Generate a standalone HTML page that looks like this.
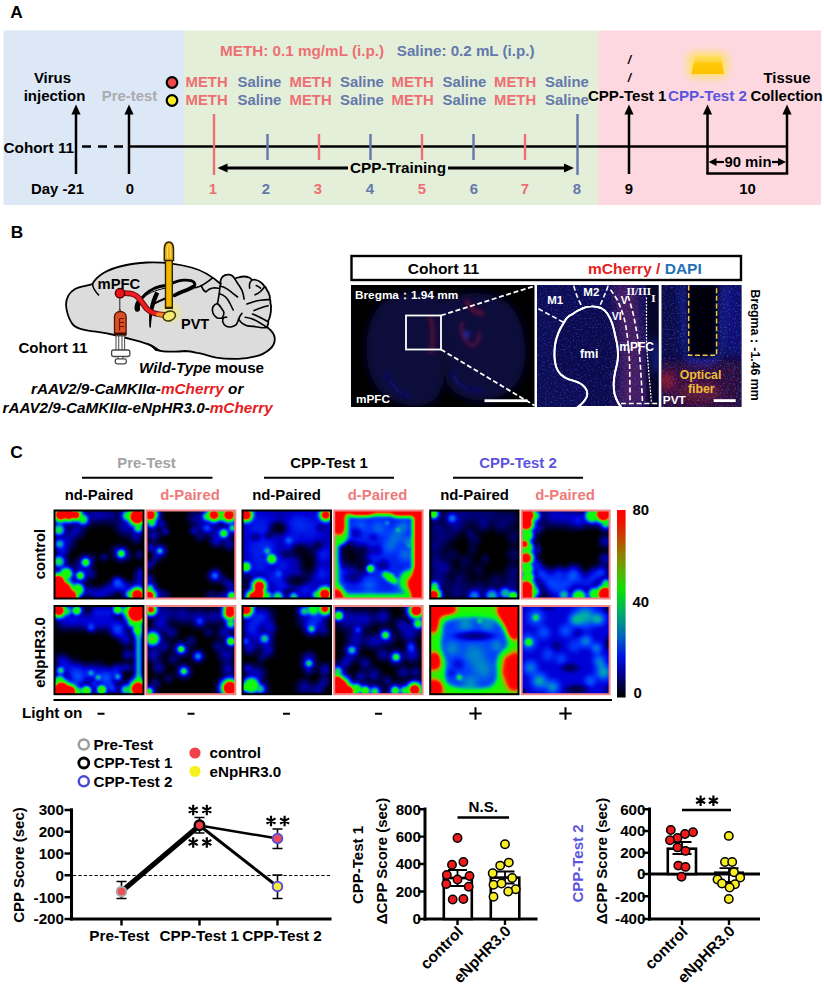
<!DOCTYPE html>
<html><head><meta charset="utf-8">
<style>
html,body{margin:0;padding:0;background:#fff;}
body{width:824px;height:990px;overflow:hidden;}
svg{display:block;}
text{font-family:"Liberation Sans",sans-serif;font-weight:bold;}
.t14{font-size:14.5px;}
.m{fill:#ee6f73;}
.s{fill:#6478ab;}
</style></head><body>
<svg width="824" height="990" viewBox="0 0 824 990">
<defs>
<marker id="ah" viewBox="0 0 10 10" refX="9" refY="5" markerWidth="5" markerHeight="5" orient="auto-start-reverse"><path d="M0,0L10,5L0,10z"/></marker>
</defs>
<rect width="824" height="990" fill="#fff"/>
<!-- ================= PANEL A ================= -->
<g id="panelA">
<text x="10.3" y="18.3" font-size="17.3">A</text>
<rect x="3.5" y="30.500" width="182" height="174.500" fill="#dde8f6"/>
<rect x="184" y="30.500" width="415" height="174.500" fill="#e3efd9"/>
<rect x="598.500" y="30.500" width="222.500" height="174.500" fill="#fdd8e1"/>
<g class="t14">
<text x="52.5" y="82.5" text-anchor="middle" font-size="15">Virus</text>
<text x="54.5" y="100.5" text-anchor="middle" font-size="15">injection</text>
<text x="129.500" y="101" text-anchor="middle" font-size="14.9" fill="#a9abb0">Pre-test</text>
<text x="3.5" y="152.5" font-size="15.3">Cohort 11</text>
<text x="31" y="194" font-size="14.9">Day -21</text>
<text x="130" y="194" text-anchor="middle" font-size="14.9">0</text>
<text x="220" y="56" class="m" font-size="15.25">METH: 0.1 mg/mL (i.p.)</text>
<text x="396.800" y="56" class="s" font-size="15.15">Saline: 0.2 mL (i.p.)</text>
</g>
<!-- circles -->
<circle cx="172" cy="82.5" r="5.3" fill="#f0474b" stroke="#000" stroke-width="2.2"/>
<circle cx="172" cy="100.5" r="5.3" fill="#f6ee22" stroke="#000" stroke-width="2.2"/>
<g font-size="14.9">
<text class="m" x="185.5" y="87">METH</text><text class="s" x="237.5" y="87">Saline</text>
<text class="m" x="289.5" y="87">METH</text><text class="s" x="340" y="87">Saline</text>
<text class="m" x="391.5" y="87">METH</text><text class="s" x="442.5" y="87">Saline</text>
<text class="m" x="494" y="87">METH</text><text class="s" x="545" y="87">Saline</text>
<text class="m" x="185.5" y="105">METH</text><text class="s" x="237.5" y="105">Saline</text>
<text class="m" x="289.5" y="105">METH</text><text class="s" x="340" y="105">Saline</text>
<text class="m" x="391.5" y="105">METH</text><text class="s" x="442.5" y="105">Saline</text>
<text class="m" x="494" y="105">METH</text><text class="s" x="545" y="105">Saline</text>
</g>
<!-- timeline -->
<line x1="76" y1="146.5" x2="129" y2="146.5" stroke="#000" stroke-width="2.4" stroke-dasharray="9,7" stroke-dashoffset="-6"/>
<line x1="129" y1="146.5" x2="787" y2="146.5" stroke="#000" stroke-width="2.4"/>
<!-- up arrows -->
<g stroke="#000" stroke-width="2.5" fill="none">
<line x1="76" y1="174" x2="76" y2="112"/>
<line x1="129" y1="174" x2="129" y2="112"/>
<line x1="629" y1="174" x2="629" y2="112"/>
<line x1="707.5" y1="174" x2="707.5" y2="112"/>
<line x1="787" y1="174" x2="787" y2="112"/>
<line x1="706.4" y1="173.5" x2="788.1" y2="173.5"/>
</g>
<g fill="#000">
<path d="M76,104.5l4.6,10h-9.2z"/><path d="M129,104.5l4.6,10h-9.2z"/>
<path d="M629,104.5l4.6,10h-9.2z"/><path d="M707.5,104.5l4.6,10h-9.2z"/><path d="M787,104.5l4.6,10h-9.2z"/>
</g>
<!-- day ticks -->
<g stroke-width="2.4">
<line x1="214" y1="114" x2="214" y2="175" stroke="#ee6f73"/>
<line x1="267.5" y1="134" x2="267.5" y2="160" stroke="#6478ab"/>
<line x1="319" y1="134" x2="319" y2="160" stroke="#ee6f73"/>
<line x1="370.5" y1="134" x2="370.5" y2="160" stroke="#6478ab"/>
<line x1="422" y1="134" x2="422" y2="160" stroke="#ee6f73"/>
<line x1="473.5" y1="134" x2="473.5" y2="160" stroke="#6478ab"/>
<line x1="525" y1="134" x2="525" y2="160" stroke="#ee6f73"/>
<line x1="577.5" y1="114" x2="577.5" y2="175" stroke="#6478ab"/>
</g>
<g font-size="14.9" text-anchor="middle">
<text class="m" x="213" y="194">1</text><text class="s" x="266" y="194">2</text>
<text class="m" x="318" y="194">3</text><text class="s" x="370" y="194">4</text>
<text class="m" x="422" y="194">5</text><text class="s" x="474" y="194">6</text>
<text class="m" x="525" y="194">7</text><text class="s" x="577" y="194">8</text>
<text x="629" y="194">9</text><text x="747.5" y="194">10</text>
</g>
<!-- CPP-Training arrow -->
<line x1="226" y1="168" x2="348" y2="168" stroke="#000" stroke-width="2.8"/>
<line x1="448" y1="168" x2="565" y2="168" stroke="#000" stroke-width="2.8"/>
<path d="M217.5,168l10,-4.6v9.2z" fill="#000"/><path d="M574,168l-10,-4.6v9.2z" fill="#000"/>
<text x="398" y="173.3" text-anchor="middle" font-size="15.3">CPP-Training</text>
<!-- right block -->
<text x="627.2" y="101" text-anchor="middle" font-size="15.1">CPP-Test 1</text>
<text x="707.5" y="101" text-anchor="middle" font-size="15.2" fill="#5b55dd">CPP-Test 2</text>
<text x="787" y="83" text-anchor="middle" font-size="14.9">Tissue</text>
<text x="786.5" y="101" text-anchor="middle" font-size="14.9">Collection</text>
<text x="629.5" y="64" text-anchor="middle" font-size="12" font-style="italic">/</text>
<text x="629.5" y="81.5" text-anchor="middle" font-size="12" font-style="italic">/</text>
<!-- 90 min -->
<line x1="716" y1="162" x2="724" y2="162" stroke="#000" stroke-width="2.2"/>
<line x1="772" y1="162" x2="779" y2="162" stroke="#000" stroke-width="2.2"/>
<path d="M708.5,162l8,-4v8z" fill="#000"/><path d="M786,162l-8,-4v8z" fill="#000"/>
<text x="748" y="167" text-anchor="middle" font-size="14.9">90 min</text>
<!-- light -->
<defs><filter id="glow" x="-50%" y="-50%" width="200%" height="200%"><feGaussianBlur stdDeviation="4"/></filter>
<linearGradient id="lg" x1="0" y1="0" x2="0" y2="1"><stop offset="0" stop-color="#ffdf62"/><stop offset=".32" stop-color="#ffd43c"/><stop offset=".42" stop-color="#ffc808"/><stop offset="1" stop-color="#ffc200"/></linearGradient></defs>
<rect x="688" y="52.500" width="39.500" height="25" rx="6" fill="#ffe266" filter="url(#glow)"/>
<path d="M695.200,55.800H720.700L724,74H691.300Z" fill="url(#lg)"/>

</g>
<!-- ================= PANEL B ================= -->
<g id="panelB">
<text x="10.8" y="238" font-size="17.3">B</text>
<!-- brain drawing -->
<g id="brain">
<path d="M66,305 C66,298 70,292 75,289 C80,286 88,286 92.5,284 C94,281 97,277 103.500,273 C113,267.500 130,263.500 147,262.500 C160,262 176,263.500 191.500,267.500 C203,270.500 214,278 220.700,284 C220,281 221,277 225,275.100 C228,273.900 231.500,274.800 232.700,276.200 C233.800,277 234.500,278 234.900,278.900 C236,277.800 237.500,277.300 238.700,277.300 C242,276.300 247,276.600 249.600,277.800 C250.800,278.400 251.500,279.200 251.800,280 C253,279.600 255,279.600 256.200,280 C258,280.500 259.500,281.300 260.500,282.200 C262,283 263.200,284.300 263.800,285.500 C265.500,286.500 266.500,288.500 267.100,290.400 C268.200,291.800 269,293.300 269.300,294.800 C269.800,296 270,297.500 269.800,299.100 C270.600,300.500 270.600,302 270.400,303.500 C271.200,305 271.200,307 270.900,309 C271,311 270.800,312.800 270.400,314.400 C270,317 269.200,319.200 268.200,321 C268.600,322.500 268.200,324 267.600,325.300 L267.300,327.300 C272,331 275,335 274.800,339.400 C274.500,344 272.500,347 270,349 C265,353.500 260,355.500 255.300,356.400 C248,358.500 242,359 236,358.800 C229,358.800 222,358.600 216.500,357.600 C209,356 203,353.600 197,352.800 C192,351.500 189,351 185,351 C180,351.500 176,351.800 172.800,351.600 C167,351.800 162,351.500 158.300,350.300 C154,347 152,345.500 148.500,344.300 C142,342 137,340.500 131.600,339.400 C125,337.500 120,336.200 114.600,335 C108,333.500 102,332.500 96,331.700 C90,331 85,330.300 80.400,328.800 C76,327.300 73,325.500 71.700,323 C68.500,318 66.500,311 66,305Z" fill="#dcdcdc" stroke="#000" stroke-width="1.800" stroke-linejoin="round"/>
<path d="M92.300,283.500 C93,288 96,292.500 99,295.300" fill="none" stroke="#000" stroke-width="1.600"/>
<path d="M146.500,343.600 C151,344 156,348 160.500,350.800 L155.500,350.500 C153,347.500 150,345.300 146.500,343.600Z" fill="#000" stroke="#000" stroke-width="1"/>
<g fill="none" stroke="#000" stroke-width="1.600" stroke-linecap="round" stroke-linejoin="round">
<path d="M220.700,284 C219.800,286 219.800,288 219.600,290.400 C219.300,293 219,295.500 218.500,298 C218.200,300 217.900,301.800 217.400,303.500 C215.500,303.800 214,305 212.800,307 C212,309.500 212.200,311.500 213,313.300 C214,315.500 215.200,316.800 216.800,317.700 C218.500,318.300 220.500,318.400 222.300,318.200"/>
<path d="M226.700,317.200 C225,317 223.800,317.300 223.400,318.200 C222.600,319.500 222.500,320.800 222.900,322.100 C223.500,324 224.400,325.200 225.600,325.900 C227.300,326.900 229.200,327.200 231,327 C233,326.500 235,325.600 236.500,324.300 C237.500,322.500 238.200,320.600 238.700,318.800 C239.500,320.600 240.600,322.100 242,323.200 C243.700,324.600 245.500,325.500 247.400,325.900 C249.500,326.300 252,326.300 254,326.400 C256.200,326.800 258.400,327.300 260.500,327.500 C262.500,327.900 264.300,328.100 267.300,327.300"/>
<path d="M212.500,277.800 C210.500,279.600 208,281.400 205.900,282.800 C203.800,284.300 201.600,285.600 199.400,286.600 L195.500,287.700"/>
<path d="M201.600,286.600 C202.500,289 204,291 205.900,292 C207,291 208,290 209.200,289.300 C211,288.300 212.800,287.800 214.700,287.700 C216,287.700 217.300,287.900 218.500,288.200"/>
<path d="M220.100,286 C223,286.600 225.600,287.800 227.800,289.300 C229.800,290.600 231.600,292.100 233.200,293.700 L237.600,297"/>
<path d="M219.600,293.700 C222,294.500 224,295.600 225.600,297 C227.500,299 228.900,301.200 230,303.500 L233.200,310"/>
<path d="M217.400,303.500 C219,304.700 220.300,306.200 221.200,307.900 C222.300,309.300 223.300,310.700 223.900,312.200 C224,314.300 223.400,316.200 222.300,317.700"/>
<path d="M234.900,278.900 C236,281 237.300,283 238.700,285 C240,286.800 241.100,288.500 242,290.400 C243.100,293.200 243.800,296.100 244.100,299.100"/>
<path d="M251.800,280 C250.800,281.200 250,282.400 249.600,283.800 C249.400,285.300 249.400,286.700 249.600,288.200"/>
<path d="M256.200,285.500 C257.800,286.200 259.200,287.100 260.500,288.200"/>
<path d="M264.900,286.600 C263.300,288.300 262,290 260.500,291.500 C258.900,292.900 257.100,294 255.100,294.800"/>
<path d="M269.800,299.700 C266.700,299.600 263.600,299.800 260.500,300.200 C257.900,300.600 255.400,301.200 252.900,301.900 L246.900,304"/>
<path d="M268.200,305.700 C265.600,306.200 263,306.900 260.500,307.900 C258.200,308.700 256,309.600 254,310.600"/>
<path d="M267.600,321.500 C266,320.500 264.300,319.600 262.700,318.800 C260.500,317.600 258.400,316.500 256.200,315.500 L252.500,314"/>
<path d="M267.100,327.500 C265,326 262.800,324.500 260.500,323.200 C257.700,321.500 254.800,320 251.800,318.800 C249.700,318 247.500,317.500 245.200,317.200"/>
<path d="M238.700,318.800 C239.500,316.800 240.600,315 242,313.300"/>
</g>
<g fill="none" stroke="#000" stroke-linecap="round">
<path d="M137.300,309 C136.800,306.500 137.800,303.500 140,300.500" stroke-width="5.400"/>
<path d="M139.500,301.500 C143,295 148.500,291 154.100,288.400 C158,286.800 162,285.900 165.800,285.500 C168.500,284.500 171,283.500 173.500,282.600 C176.500,281.500 180,280.500 183.300,280.200 C186,279.900 188.800,280.100 191,280.700 C193.500,281.500 194.800,283 194.900,284.600 C194.800,286 194,287.200 193,288" stroke-width="2.800"/>
<path d="M142.500,299 C147,293.500 154,290.500 166,288" stroke-width="1"/>
<path d="M174.500,295.300 C178,293.300 181.500,292 185.200,290.600 C188,289.500 191,288.500 193.500,286.500" stroke-width="3.800"/>
<path d="M154.500,303.500 C158,301.500 162,299.700 165.800,298.200" stroke-width="2"/>
</g>
<path d="M155.300,291.500 C152.500,297 150.800,302.500 149.800,308 C149,313.500 148.900,320 149.400,327 C149.500,328 150.800,328 150.900,327 C151.200,320.500 152,314.500 153.600,309 C155,303.500 157,298.500 159.200,293.500Z" fill="#000"/>
<defs><radialGradient id="pvg"><stop offset="0" stop-color="#f7ec6a" stop-opacity=".95"/><stop offset=".55" stop-color="#f4ea80" stop-opacity=".6"/><stop offset="1" stop-color="#f4ea80" stop-opacity="0"/></radialGradient></defs>
<ellipse cx="171" cy="312.500" rx="13" ry="13.500" fill="url(#pvg)" opacity=".8"/>
<path d="M124.500,293.200 C129,293.200 133,293.500 136.500,296 C141,299.500 143,304.500 147,309 C151,313 157,314.500 164.500,315" fill="none" stroke="#6b0a0a" stroke-width="5.800" stroke-linecap="round"/>
<path d="M124.500,293.200 C129,293.200 133,293.500 136.500,296 C141,299.500 143,304.500 147,309 C151,313 157,314.500 164.500,315" fill="none" stroke="#f01d22" stroke-width="3.800" stroke-linecap="round"/>
<path d="M158,314.300 L164.500,315" fill="none" stroke="#f28a1e" stroke-width="3.800" stroke-linecap="round"/>
<ellipse cx="169.300" cy="316" rx="6.300" ry="4.800" transform="rotate(-20 169.300 316)" fill="#f4e873" stroke="#3f3d00" stroke-width="1.500"/>
<path d="M165.500,260.400 h6.800 v48 h-6.800z" fill="#f3b700" stroke="#2e2200" stroke-width="1.400"/><rect x="165.500" y="306.700" width="6.800" height="1.900" fill="#2e2200"/>
<path d="M164.300,260.400 v-11 c0,-4.500 1.900,-7.300 4.600,-7.300 c2.700,0 4.600,2.800 4.600,7.300 v11z" fill="#eeb211" stroke="#2e2200" stroke-width="1.500"/>
<path d="M167.500,258 v-9 c0,-3 .6,-4.400 1.400,-4.400 c.8,0 1.400,1.400 1.400,4.400 v9" fill="none" stroke="#fbe08a" stroke-width=".9"/>
<line x1="119.800" y1="297" x2="119.800" y2="311" stroke="#222" stroke-width="1"/>
<circle cx="120" cy="293.200" r="4.700" fill="#ea151b" stroke="#4a0000" stroke-width="1.400"/>
<path d="M118.300,312.500 l1.500,-3.500 l1.500,3.500z" fill="#fff" stroke="#222" stroke-width=".8"/>
<path d="M114.500,334.500 v-18 c0,-3 2.500,-5 5.800,-5 c3.300,0 5.800,2 5.800,5 v18z" fill="#dc4f26" stroke="#4a1500" stroke-width="1.300"/>
<path d="M119.500,318.500h4.500 M119.500,322.500h4.500 M119.500,326.500h4.500 M119.500,318.500v12" stroke="#6a1600" stroke-width="1.200" fill="none"/>
<rect x="114.500" y="332.500" width="11.600" height="3.400" fill="#3a0d00"/>
<rect x="116" y="335.900" width="8.600" height="14.500" fill="#fff" stroke="#555" stroke-width="1.100"/>
<path d="M118.700,335.900v14.500 M122,335.900v14.500" stroke="#555" stroke-width="1.100"/>
<rect x="111.600" y="350" width="18.200" height="6.500" rx="2" fill="#fff" stroke="#444" stroke-width="1.300"/>
<rect x="118.200" y="356.500" width="4.600" height="3" fill="#fff" stroke="#444" stroke-width="1"/>
<rect x="115.300" y="358.800" width="11" height="5" rx="1.800" fill="#fff" stroke="#444" stroke-width="1.300"/>
</g>
<!-- labels -->
<text x="97.500" y="289.300" font-size="14.800">mPFC</text>
<text x="181" y="328.600" font-size="14.500">PVT</text>
<text x="18.500" y="352.500" font-size="15">Cohort 11</text>
<text x="139" y="373.300" font-size="15.200"><tspan font-style="italic">Wild-Type</tspan> mouse</text>
<text x="31" y="393.800" font-size="15.300" font-style="italic">rAAV2/9-CaMKII&#945;-<tspan fill="#e51c1f">mCherry</tspan> or</text>
<text x="2.500" y="412.500" font-size="15.300" font-style="italic">rAAV2/9-CaMKII&#945;-eNpHR3.0-<tspan fill="#e51c1f">mCherry</tspan></text>

<!-- header box -->
<rect x="351.5" y="256" width="389.500" height="24" fill="#fff" stroke="#000" stroke-width="2.400"/>
<text x="443.500" y="273.500" text-anchor="middle" font-size="15.500">Cohort 11</text>
<text x="588" y="273.500" font-size="15.500"><tspan fill="#e3211c">mCherry /</tspan><tspan fill="#1f72b8"> DAPI</tspan></text>
<defs>
<filter id="bl4" x="-30%" y="-30%" width="160%" height="160%"><feGaussianBlur stdDeviation="4"/></filter>
<filter id="bl2" x="-30%" y="-30%" width="160%" height="160%"><feGaussianBlur stdDeviation="2"/></filter>
<filter id="bl6" x="-30%" y="-30%" width="160%" height="160%"><feGaussianBlur stdDeviation="6"/></filter>
<filter id="nzb" x="0" y="0" width="100%" height="100%"><feTurbulence type="fractalNoise" baseFrequency=".55" numOctaves="2" seed="7"/><feColorMatrix type="matrix" values="0 0 0 0 .08  0 0 0 0 .12  0 0 0 0 .95  0 0 3.2 0 -1.75"/></filter>
<filter id="nzr" x="0" y="0" width="100%" height="100%"><feTurbulence type="fractalNoise" baseFrequency=".6" numOctaves="2" seed="11"/><feColorMatrix type="matrix" values="0 0 0 0 .85  0 0 0 0 .08  0 0 0 0 .2  0 3.2 0 0 -1.85"/></filter>
<clipPath id="ci1"><rect x="351" y="285" width="183.500" height="122"/></clipPath>
<clipPath id="ci2"><rect x="537" y="285" width="121.500" height="122"/></clipPath>
<clipPath id="ci3"><rect x="661.500" y="285" width="80" height="122"/></clipPath>
</defs>
<!-- image 1 -->
<rect x="351" y="285" width="183.500" height="122" fill="#000"/>
<g clip-path="url(#ci1)">
<g filter="url(#bl4)">
<path d="M443,302 C430,292 400,292 384,304 C368,318 364,350 372,374 C380,396 400,406 420,404 C434,402 441,392 441,376Z" fill="#08083a" stroke="#0e0e54" stroke-width="3"/>
<path d="M447,302 C460,292 490,292 506,304 C522,318 528,350 520,374 C512,394 490,402 472,398 C456,394 449,388 449,376Z" fill="#08083a" stroke="#0e0e54" stroke-width="3"/>
</g>
<g filter="url(#bl2)">
<path d="M430,316 C433,325 434,340 431,354" stroke="#4a0e34" stroke-width="5" fill="none"/>
<path d="M466,300 C470,308 474,312 484,314" stroke="#5a1038" stroke-width="5" fill="none"/>
<path d="M462,322 C460,332 464,342 472,346 C478,344 480,338 478,332" stroke="#4a1040" stroke-width="4" fill="none"/>
<circle cx="467" cy="334" r="3" fill="#1a2ab0"/>
<path d="M386,372 C390,386 400,394 410,396" stroke="#14148a" stroke-width="3" fill="none" opacity=".7"/>
<path d="M452,372 C456,386 470,392 484,390" stroke="#14148a" stroke-width="3" fill="none" opacity=".7"/>
</g>
</g>
<rect x="406" y="315.500" width="35" height="34" fill="none" stroke="#fff" stroke-width="1.800"/>
<path d="M441,315.500 L534.500,286 M441,349.500 L534.500,405.500" stroke="#fff" stroke-width="1.800" stroke-dasharray="5,2.600" fill="none"/>
<rect x="484.500" y="399.300" width="43" height="2.800" fill="#fff"/>
<text x="355" y="299" font-size="11.800" fill="#fff">Bregma：1.94 mm</text>
<text x="356" y="403" font-size="11.800" fill="#fff">mPFC</text>
<!-- image 2 -->
<rect x="537" y="285" width="121.500" height="122" fill="#0d0d56"/>
<g clip-path="url(#ci2)">
<rect x="646" y="285" width="14" height="122" fill="#06062a"/>
<g filter="url(#bl4)">
<path d="M612,285 L636,285 C640,320 644,360 646,407 L618,407 C622,370 620,320 612,285Z" fill="#4c1c62" opacity=".85"/>
<path d="M652,340 C656,350 657,362 656,372" stroke="#1430c0" stroke-width="5" fill="none"/>
<path d="M596,385 L602,407 L590,407Z" fill="#1428b0"/>
</g>
<path d="M564,322.500 C566,318 568.500,316 572,314.400 C575,312 578,310 581.700,308.800 C585,307.200 588,306.400 591.300,306.400 C595,306.300 598,306.800 600.900,308 C604,309.500 606,311.500 607.300,313.600 C609.500,317 611,320 612.100,323.300 C613.500,327.500 614.500,331.500 615.300,336 C616.500,340.500 617.300,344.500 617.700,348.900 C618,352.500 618,356.500 617.700,360 C617.200,364 616.200,367.500 615.300,371.300 C614.500,375 613.900,378.500 613.700,382.500 C613.600,386.500 613.800,390 614.500,393.700 C615.500,397.500 616.800,400.500 618.500,403.400 L621,407 L578,407 C581,404.500 583.500,402.500 584.900,400 C586.500,398 587.300,396 587.300,393.700 C587.200,391.200 586.300,389 584.900,387.300 C583.300,385.200 581,383.700 578.500,382.500 C575.500,381.300 572,380.300 568.800,379.300 C565.800,378.300 563,376.500 560.800,374.500 C558.500,372.300 557,369.500 556,366.500 C555,363 554.500,359 554.400,355.300 C554.400,351.500 554.600,347.800 555.200,344 C555.800,340.200 557,336.500 558.400,332.900 C559.800,329.200 561.800,325.800 564,322.500Z" fill="#0a0a4c" stroke="#fff" stroke-width="1.900"/>
<rect x="537" y="285" width="109" height="122" filter="url(#nzb)" opacity=".5"/>
<rect x="610" y="285" width="36" height="122" filter="url(#nzr)" opacity=".4"/>
<path d="M564,322.500 C566,318 568.500,316 572,314.400 C575,312 578,310 581.700,308.800 C585,307.200 588,306.400 591.300,306.400 C595,306.300 598,306.800 600.900,308 C604,309.500 606,311.500 607.300,313.600 C609.500,317 611,320 612.100,323.300 C613.500,327.500 614.500,331.500 615.300,336 C616.500,340.500 617.300,344.500 617.700,348.900 C618,352.500 618,356.500 617.700,360 C617.200,364 616.200,367.500 615.300,371.300 C614.500,375 613.900,378.500 613.700,382.500 C613.600,386.500 613.800,390 614.500,393.700 C615.500,397.500 616.800,400.500 618.500,403.400 L621,407 L578,407 C581,404.500 583.500,402.500 584.900,400 C586.500,398 587.300,396 587.300,393.700 C587.200,391.200 586.300,389 584.900,387.300 C583.300,385.200 581,383.700 578.500,382.500 C575.500,381.300 572,380.300 568.800,379.300 C565.800,378.300 563,376.500 560.800,374.500 C558.500,372.300 557,369.500 556,366.500 C555,363 554.500,359 554.400,355.300 C554.400,351.500 554.600,347.800 555.200,344 C555.800,340.200 557,336.500 558.400,332.900 C559.800,329.200 561.800,325.800 564,322.500Z" fill="none" stroke="#fff" stroke-width="1.900"/>

<g fill="none" stroke="#fff" stroke-width="1.600" stroke-dasharray="5,2.800">
<path d="M538.400,308.800 L564,322.500"/>
<path d="M573.700,285.600 C575,290 576,294 577.700,297.600 L582.500,308"/>
<path d="M608.100,285.600 C607,289.500 605.500,293 604.100,296 L599.300,307.200"/>
<path d="M610.500,289.600 C613.500,294 616.500,298 618.500,302.400 C621,308.500 623.500,315 624.900,321.700 C626.500,329 627.500,336.500 628.100,344 C629,352 629.500,360 629.700,368 C629.900,380 630,392 630,403.400"/>
<path d="M628.100,296 C630.500,304 633,312 634.500,320 C636,328 637.500,336 638.500,344 C639.500,354.500 640.500,365 641,376 C641.700,385 642.200,394 642.500,403.400"/>
<path d="M621,403.600 L657.800,403.600" stroke-width="1.500"/>
</g>
<path d="M646.500,297.600 L646.500,344 C647.300,354.500 648.300,365 649,376 C650,385 650.800,394 651.400,403.400" fill="none" stroke="#fff" stroke-width="1.200" stroke-dasharray="2,1.300"/>
</g>
<g fill="#fff">
<text x="547.200" y="303.700" font-size="11.500">M1</text>
<text x="583.300" y="296.300" font-size="11.500">M2</text>
<text x="580" y="357.500" font-size="12.200">fmi</text>
<text x="619.300" y="350.500" font-size="12">mPFC</text>
<text x="620.800" y="304.200" font-size="10.500">V</text>
<text x="611.800" y="320" font-size="10.500">VI</text>
<text x="626.500" y="295" font-size="11" style="font-family:'Liberation Serif',serif">II/III</text>
<text x="651.200" y="301.600" font-size="11" style="font-family:'Liberation Serif',serif">I</text>
</g>
<!-- image 3 -->
<rect x="661.500" y="285" width="80" height="122" fill="#0b0b48"/>
<g clip-path="url(#ci3)">
<g filter="url(#bl4)">
<rect x="661.500" y="362" width="80" height="50" fill="#2c0e3a"/>
<ellipse cx="666" cy="381" rx="8" ry="8" fill="#8a1525"/>
<ellipse cx="700" cy="392" rx="22" ry="10" fill="#5a1235"/>
<path d="M682,285 L686,345 L692,360 L712,360 L722,345 L724,285" fill="none" stroke="#142cb8" stroke-width="4"/>
<rect x="728" y="285" width="14" height="70" fill="#101078"/>
</g>
<rect x="661.500" y="285" width="80" height="122" filter="url(#nzb)" opacity=".6"/>
<rect x="661.500" y="360" width="80" height="47" filter="url(#nzr)" opacity=".42"/>
<path d="M688,285 L688.500,354 C694,358 710,358 716.500,354 L717,285Z" fill="#03030c" filter="url(#bl2)"/>
</g>
<path d="M688.700,285.500 V355.200 H716.600 V285.500" fill="none" stroke="#f2c53d" stroke-width="1.500" stroke-dasharray="5,2.600"/>
<text x="700.500" y="378.800" text-anchor="middle" font-size="12.300" fill="#f0bc35">Optical</text>
<text x="701.300" y="392.600" text-anchor="middle" font-size="12.300" fill="#f0bc35">fiber</text>
<text x="662.800" y="403.700" font-size="11.800" fill="#fff">PVT</text>
<rect x="713.700" y="399.200" width="22" height="2.800" fill="#fff"/>
<text transform="translate(751,289.500) rotate(90)" font-size="12.300">Bregma：-1.46 mm</text>

</g>
<!-- ================= PANEL C ================= -->
<g id="panelC">
<text x="10.3" y="457.800" font-size="17.300">C</text>
<!-- headers -->
<g font-size="14.900" text-anchor="middle">
<text x="146.500" y="468" fill="#a3a3a3">Pre-Test</text>
<text x="329" y="468">CPP-Test 1</text>
<text x="518" y="468" fill="#5b55dd">CPP-Test 2</text>
<text x="99" y="499.500">nd-Paired</text><text x="190" y="499.500" fill="#ee7a7a">d-Paired</text>
<text x="286.500" y="499.500">nd-Paired</text><text x="377.500" y="499.500" fill="#ee7a7a">d-Paired</text>
<text x="474.500" y="499.500">nd-Paired</text><text x="565" y="499.500" fill="#ee7a7a">d-Paired</text>
</g>
<g stroke="#000" stroke-width="2">
<line x1="82" y1="477.800" x2="212.500" y2="477.800"/>
<line x1="264" y1="477.800" x2="394" y2="477.800"/>
<line x1="453" y1="477.800" x2="583" y2="477.800"/>
<line x1="53.500" y1="700" x2="612" y2="700"/>
</g>
<text transform="translate(45,554) rotate(-90)" text-anchor="middle" font-size="14.900">control</text>
<text transform="translate(45,652.500) rotate(-90)" text-anchor="middle" font-size="14.900">eNpHR3.0</text>
<text x="22" y="718" font-size="15.300">Light on</text>
<g stroke="#000" stroke-width="2" fill="none">
<path d="M97.500,713.700h7M187.500,713.700h7M283,713.700h7M375,713.700h7"/>
<path d="M469.300,713.500h12.400M475.500,707.300v12.400M559.300,713.500h12.400M565.500,707.300v12.400" stroke-width="2"/>
</g>
<!-- colorbar -->
<defs><linearGradient id="cb" x1="0" y1="1" x2="0" y2="0">
<stop offset="0" stop-color="#000"/><stop offset=".05" stop-color="#000030"/><stop offset=".14" stop-color="#0000a0"/><stop offset=".22" stop-color="#0012e4"/><stop offset=".32" stop-color="#0060c0"/><stop offset=".42" stop-color="#009a80"/><stop offset=".52" stop-color="#00cc30"/><stop offset=".58" stop-color="#10e000"/><stop offset=".66" stop-color="#50b800"/><stop offset=".76" stop-color="#908000"/><stop offset=".86" stop-color="#c84000"/><stop offset=".94" stop-color="#f01000"/><stop offset="1" stop-color="#ff0000"/></linearGradient></defs>
<rect x="617" y="510" width="8.600" height="187.500" fill="url(#cb)"/>
<g font-size="14.900"><text x="632.500" y="514.500">80</text><text x="632.500" y="606.500">40</text><text x="633.500" y="698">0</text></g>

<!--HEAT-START-->
<defs>
<radialGradient id="rk"><stop offset="0" stop-color="#000" stop-opacity="1"/><stop offset=".4" stop-color="#000" stop-opacity=".8"/><stop offset="1" stop-color="#000" stop-opacity="0"/></radialGradient>
<filter id="pb" filterUnits="userSpaceOnUse" x="-30" y="-30" width="160" height="160"><feGaussianBlur stdDeviation="2.2"/></filter>
<filter id="jet" x="0" y="0" width="100" height="100" filterUnits="userSpaceOnUse" color-interpolation-filters="sRGB">
<feGaussianBlur stdDeviation="1.8"/>
<feComponentTransfer>
<feFuncR type="table" tableValues="0 0 0 0 0 0 .15 .8 1 1 1"/>
<feFuncG type="table" tableValues="0 0 0 .25 .65 1 .95 .6 .1 0 0"/>
<feFuncB type="table" tableValues="0 .38 .85 1 .7 .1 0 0 0 0 0"/>
</feComponentTransfer></filter>
<radialGradient id="p100"><stop offset="0" stop-color="#ffffff"/><stop offset="0.5" stop-color="#ffffff"/><stop offset="0.62" stop-color="#d6d6d6"/><stop offset="0.74" stop-color="#999999"/><stop offset="0.86" stop-color="#525252"/><stop offset="0.95" stop-color="#1a1a1a"/><stop offset="1" stop-color="#000000"/></radialGradient>
<radialGradient id="g58"><stop offset="0" stop-color="#949494"/><stop offset="0.35" stop-color="#949494"/><stop offset="0.55" stop-color="#767676"/><stop offset="0.75" stop-color="#434343"/><stop offset="0.9" stop-color="#161616"/><stop offset="1" stop-color="#000000"/></radialGradient>
<radialGradient id="h24"><stop offset="0" stop-color="#3d3d3d"/><stop offset="0.15" stop-color="#3a3a3a"/><stop offset="0.3" stop-color="#323232"/><stop offset="0.45" stop-color="#262626"/><stop offset="0.6" stop-color="#181818"/><stop offset="0.75" stop-color="#0c0c0c"/><stop offset="0.9" stop-color="#040404"/><stop offset="1" stop-color="#000000"/></radialGradient>
<radialGradient id="g48"><stop offset="0" stop-color="#7a7a7a"/><stop offset="0.35" stop-color="#7a7a7a"/><stop offset="0.55" stop-color="#626262"/><stop offset="0.75" stop-color="#373737"/><stop offset="0.9" stop-color="#121212"/><stop offset="1" stop-color="#000000"/></radialGradient>
<radialGradient id="h26"><stop offset="0" stop-color="#424242"/><stop offset="0.15" stop-color="#3f3f3f"/><stop offset="0.3" stop-color="#363636"/><stop offset="0.45" stop-color="#292929"/><stop offset="0.6" stop-color="#1b1b1b"/><stop offset="0.75" stop-color="#0d0d0d"/><stop offset="0.9" stop-color="#040404"/><stop offset="1" stop-color="#000000"/></radialGradient>
<radialGradient id="g42"><stop offset="0" stop-color="#6b6b6b"/><stop offset="0.35" stop-color="#6b6b6b"/><stop offset="0.55" stop-color="#565656"/><stop offset="0.75" stop-color="#303030"/><stop offset="0.9" stop-color="#101010"/><stop offset="1" stop-color="#000000"/></radialGradient>
<radialGradient id="g50"><stop offset="0" stop-color="#808080"/><stop offset="0.35" stop-color="#808080"/><stop offset="0.55" stop-color="#666666"/><stop offset="0.75" stop-color="#393939"/><stop offset="0.9" stop-color="#131313"/><stop offset="1" stop-color="#000000"/></radialGradient>
<radialGradient id="h78"><stop offset="0" stop-color="#c7c7c7"/><stop offset="0.15" stop-color="#bdbdbd"/><stop offset="0.3" stop-color="#a3a3a3"/><stop offset="0.45" stop-color="#7b7b7b"/><stop offset="0.6" stop-color="#505050"/><stop offset="0.75" stop-color="#282828"/><stop offset="0.9" stop-color="#0c0c0c"/><stop offset="1" stop-color="#000000"/></radialGradient>
<radialGradient id="g60"><stop offset="0" stop-color="#999999"/><stop offset="0.35" stop-color="#999999"/><stop offset="0.55" stop-color="#7a7a7a"/><stop offset="0.75" stop-color="#454545"/><stop offset="0.9" stop-color="#171717"/><stop offset="1" stop-color="#000000"/></radialGradient>
<radialGradient id="g56"><stop offset="0" stop-color="#8f8f8f"/><stop offset="0.35" stop-color="#8f8f8f"/><stop offset="0.55" stop-color="#727272"/><stop offset="0.75" stop-color="#404040"/><stop offset="0.9" stop-color="#151515"/><stop offset="1" stop-color="#000000"/></radialGradient>
<radialGradient id="h16"><stop offset="0" stop-color="#292929"/><stop offset="0.15" stop-color="#272727"/><stop offset="0.3" stop-color="#212121"/><stop offset="0.45" stop-color="#191919"/><stop offset="0.6" stop-color="#101010"/><stop offset="0.75" stop-color="#080808"/><stop offset="0.9" stop-color="#020202"/><stop offset="1" stop-color="#000000"/></radialGradient>
<radialGradient id="h14"><stop offset="0" stop-color="#242424"/><stop offset="0.15" stop-color="#222222"/><stop offset="0.3" stop-color="#1d1d1d"/><stop offset="0.45" stop-color="#161616"/><stop offset="0.6" stop-color="#0e0e0e"/><stop offset="0.75" stop-color="#070707"/><stop offset="0.9" stop-color="#020202"/><stop offset="1" stop-color="#000000"/></radialGradient>
<radialGradient id="h18"><stop offset="0" stop-color="#2e2e2e"/><stop offset="0.15" stop-color="#2b2b2b"/><stop offset="0.3" stop-color="#252525"/><stop offset="0.45" stop-color="#1c1c1c"/><stop offset="0.6" stop-color="#121212"/><stop offset="0.75" stop-color="#090909"/><stop offset="0.9" stop-color="#030303"/><stop offset="1" stop-color="#000000"/></radialGradient>
<radialGradient id="h19"><stop offset="0" stop-color="#313131"/><stop offset="0.15" stop-color="#2f2f2f"/><stop offset="0.3" stop-color="#282828"/><stop offset="0.45" stop-color="#1e1e1e"/><stop offset="0.6" stop-color="#141414"/><stop offset="0.75" stop-color="#0a0a0a"/><stop offset="0.9" stop-color="#030303"/><stop offset="1" stop-color="#000000"/></radialGradient>
<radialGradient id="h20"><stop offset="0" stop-color="#343434"/><stop offset="0.15" stop-color="#323232"/><stop offset="0.3" stop-color="#2b2b2b"/><stop offset="0.45" stop-color="#202020"/><stop offset="0.6" stop-color="#151515"/><stop offset="0.75" stop-color="#0a0a0a"/><stop offset="0.9" stop-color="#030303"/><stop offset="1" stop-color="#000000"/></radialGradient>
<radialGradient id="h13"><stop offset="0" stop-color="#212121"/><stop offset="0.15" stop-color="#1f1f1f"/><stop offset="0.3" stop-color="#1b1b1b"/><stop offset="0.45" stop-color="#141414"/><stop offset="0.6" stop-color="#0d0d0d"/><stop offset="0.75" stop-color="#070707"/><stop offset="0.9" stop-color="#020202"/><stop offset="1" stop-color="#000000"/></radialGradient>
<radialGradient id="g55"><stop offset="0" stop-color="#8c8c8c"/><stop offset="0.35" stop-color="#8c8c8c"/><stop offset="0.55" stop-color="#707070"/><stop offset="0.75" stop-color="#3f3f3f"/><stop offset="0.9" stop-color="#151515"/><stop offset="1" stop-color="#000000"/></radialGradient>
<radialGradient id="h12"><stop offset="0" stop-color="#1d1d1d"/><stop offset="0.15" stop-color="#1c1c1c"/><stop offset="0.3" stop-color="#181818"/><stop offset="0.45" stop-color="#121212"/><stop offset="0.6" stop-color="#0c0c0c"/><stop offset="0.75" stop-color="#060606"/><stop offset="0.9" stop-color="#020202"/><stop offset="1" stop-color="#000000"/></radialGradient>
<radialGradient id="g62"><stop offset="0" stop-color="#9e9e9e"/><stop offset="0.35" stop-color="#9e9e9e"/><stop offset="0.55" stop-color="#7e7e7e"/><stop offset="0.75" stop-color="#474747"/><stop offset="0.9" stop-color="#181818"/><stop offset="1" stop-color="#000000"/></radialGradient>
<radialGradient id="g45"><stop offset="0" stop-color="#737373"/><stop offset="0.35" stop-color="#737373"/><stop offset="0.55" stop-color="#5c5c5c"/><stop offset="0.75" stop-color="#343434"/><stop offset="0.9" stop-color="#111111"/><stop offset="1" stop-color="#000000"/></radialGradient>
<radialGradient id="h9"><stop offset="0" stop-color="#171717"/><stop offset="0.15" stop-color="#161616"/><stop offset="0.3" stop-color="#131313"/><stop offset="0.45" stop-color="#0e0e0e"/><stop offset="0.6" stop-color="#090909"/><stop offset="0.75" stop-color="#050505"/><stop offset="0.9" stop-color="#010101"/><stop offset="1" stop-color="#000000"/></radialGradient>
<radialGradient id="h8"><stop offset="0" stop-color="#141414"/><stop offset="0.15" stop-color="#131313"/><stop offset="0.3" stop-color="#101010"/><stop offset="0.45" stop-color="#0c0c0c"/><stop offset="0.6" stop-color="#080808"/><stop offset="0.75" stop-color="#040404"/><stop offset="0.9" stop-color="#010101"/><stop offset="1" stop-color="#000000"/></radialGradient>
<radialGradient id="h10"><stop offset="0" stop-color="#1a1a1a"/><stop offset="0.15" stop-color="#191919"/><stop offset="0.3" stop-color="#151515"/><stop offset="0.45" stop-color="#101010"/><stop offset="0.6" stop-color="#0a0a0a"/><stop offset="0.75" stop-color="#050505"/><stop offset="0.9" stop-color="#020202"/><stop offset="1" stop-color="#000000"/></radialGradient>
<radialGradient id="g46"><stop offset="0" stop-color="#757575"/><stop offset="0.35" stop-color="#757575"/><stop offset="0.55" stop-color="#5e5e5e"/><stop offset="0.75" stop-color="#353535"/><stop offset="0.9" stop-color="#121212"/><stop offset="1" stop-color="#000000"/></radialGradient>
<radialGradient id="g52"><stop offset="0" stop-color="#858585"/><stop offset="0.35" stop-color="#858585"/><stop offset="0.55" stop-color="#6a6a6a"/><stop offset="0.75" stop-color="#3c3c3c"/><stop offset="0.9" stop-color="#141414"/><stop offset="1" stop-color="#000000"/></radialGradient>
<radialGradient id="g40"><stop offset="0" stop-color="#666666"/><stop offset="0.35" stop-color="#666666"/><stop offset="0.55" stop-color="#525252"/><stop offset="0.75" stop-color="#2e2e2e"/><stop offset="0.9" stop-color="#0f0f0f"/><stop offset="1" stop-color="#000000"/></radialGradient>
<radialGradient id="g36"><stop offset="0" stop-color="#5c5c5c"/><stop offset="0.35" stop-color="#5c5c5c"/><stop offset="0.55" stop-color="#494949"/><stop offset="0.75" stop-color="#292929"/><stop offset="0.9" stop-color="#0e0e0e"/><stop offset="1" stop-color="#000000"/></radialGradient>
<radialGradient id="h11"><stop offset="0" stop-color="#1c1c1c"/><stop offset="0.15" stop-color="#1a1a1a"/><stop offset="0.3" stop-color="#171717"/><stop offset="0.45" stop-color="#111111"/><stop offset="0.6" stop-color="#0b0b0b"/><stop offset="0.75" stop-color="#060606"/><stop offset="0.9" stop-color="#020202"/><stop offset="1" stop-color="#000000"/></radialGradient>
<radialGradient id="h22"><stop offset="0" stop-color="#373737"/><stop offset="0.15" stop-color="#353535"/><stop offset="0.3" stop-color="#2e2e2e"/><stop offset="0.45" stop-color="#222222"/><stop offset="0.6" stop-color="#161616"/><stop offset="0.75" stop-color="#0b0b0b"/><stop offset="0.9" stop-color="#030303"/><stop offset="1" stop-color="#000000"/></radialGradient>
<radialGradient id="g65"><stop offset="0" stop-color="#a6a6a6"/><stop offset="0.35" stop-color="#a6a6a6"/><stop offset="0.55" stop-color="#858585"/><stop offset="0.75" stop-color="#4b4b4b"/><stop offset="0.9" stop-color="#191919"/><stop offset="1" stop-color="#000000"/></radialGradient>
<radialGradient id="h23"><stop offset="0" stop-color="#3b3b3b"/><stop offset="0.15" stop-color="#383838"/><stop offset="0.3" stop-color="#303030"/><stop offset="0.45" stop-color="#242424"/><stop offset="0.6" stop-color="#181818"/><stop offset="0.75" stop-color="#0c0c0c"/><stop offset="0.9" stop-color="#040404"/><stop offset="1" stop-color="#000000"/></radialGradient>
<radialGradient id="h29"><stop offset="0" stop-color="#494949"/><stop offset="0.15" stop-color="#464646"/><stop offset="0.3" stop-color="#3c3c3c"/><stop offset="0.45" stop-color="#2e2e2e"/><stop offset="0.6" stop-color="#1d1d1d"/><stop offset="0.75" stop-color="#0f0f0f"/><stop offset="0.9" stop-color="#040404"/><stop offset="1" stop-color="#000000"/></radialGradient>
<radialGradient id="h17"><stop offset="0" stop-color="#2c2c2c"/><stop offset="0.15" stop-color="#2a2a2a"/><stop offset="0.3" stop-color="#242424"/><stop offset="0.45" stop-color="#1b1b1b"/><stop offset="0.6" stop-color="#121212"/><stop offset="0.75" stop-color="#090909"/><stop offset="0.9" stop-color="#030303"/><stop offset="1" stop-color="#000000"/></radialGradient>
<radialGradient id="g54"><stop offset="0" stop-color="#8a8a8a"/><stop offset="0.35" stop-color="#8a8a8a"/><stop offset="0.55" stop-color="#6e6e6e"/><stop offset="0.75" stop-color="#3e3e3e"/><stop offset="0.9" stop-color="#151515"/><stop offset="1" stop-color="#000000"/></radialGradient>
<radialGradient id="h27"><stop offset="0" stop-color="#454545"/><stop offset="0.15" stop-color="#414141"/><stop offset="0.3" stop-color="#383838"/><stop offset="0.45" stop-color="#2a2a2a"/><stop offset="0.6" stop-color="#1b1b1b"/><stop offset="0.75" stop-color="#0e0e0e"/><stop offset="0.9" stop-color="#040404"/><stop offset="1" stop-color="#000000"/></radialGradient>
<radialGradient id="h15"><stop offset="0" stop-color="#272727"/><stop offset="0.15" stop-color="#252525"/><stop offset="0.3" stop-color="#202020"/><stop offset="0.45" stop-color="#181818"/><stop offset="0.6" stop-color="#101010"/><stop offset="0.75" stop-color="#080808"/><stop offset="0.9" stop-color="#020202"/><stop offset="1" stop-color="#000000"/></radialGradient>
</defs>
<style>.L{mix-blend-mode:lighten}.S{mix-blend-mode:screen}</style>
<svg x="54.5" y="510.5" width="89.0" height="88.0" viewBox="0 0 100 100" preserveAspectRatio="none"><g filter="url(#jet)"><rect x="-5" y="-5" width="110" height="110" fill="#000"/>
<circle class="S" cx="56" cy="53" r="7.2" fill="url(#h16)"/>
<circle class="S" cx="45" cy="5" r="17.4" fill="url(#h16)"/>
<circle class="S" cx="62" cy="5" r="17.4" fill="url(#h14)"/>
<circle class="S" cx="25" cy="22" r="14.5" fill="url(#h18)"/>
<circle class="S" cx="12" cy="35" r="17.4" fill="url(#h19)"/>
<circle class="S" cx="80" cy="18" r="17.4" fill="url(#h18)"/>
<circle class="S" cx="92" cy="30" r="11.6" fill="url(#h16)"/>
<circle class="S" cx="30" cy="64" r="14.5" fill="url(#h18)"/>
<circle class="S" cx="40" cy="72" r="11.6" fill="url(#h16)"/>
<circle class="S" cx="50" cy="95" r="13.0" fill="url(#h19)"/>
<circle class="S" cx="62" cy="90" r="13.0" fill="url(#h19)"/>
<circle class="S" cx="72" cy="84" r="11.6" fill="url(#h19)"/>
<circle class="S" cx="80" cy="88" r="13.0" fill="url(#h19)"/>
<circle class="S" cx="97" cy="72" r="11.6" fill="url(#h19)"/>
<circle class="S" cx="95" cy="84" r="11.6" fill="url(#h19)"/>
<circle class="S" cx="70" cy="80" r="8.7" fill="url(#h20)"/>
<circle class="S" cx="38" cy="92" r="11.6" fill="url(#h16)"/>
<circle class="S" cx="68" cy="45" r="8.7" fill="url(#h13)"/>
<circle class="S" cx="82" cy="52" r="8.7" fill="url(#h13)"/>
<circle class="S" cx="42" cy="55" r="8.7" fill="url(#h13)"/>
<circle class="S" cx="96" cy="50" r="8.7" fill="url(#h14)"/>
<circle class="S" cx="8" cy="48" r="11.6" fill="url(#h19)"/>
<circle class="L" cx="7" cy="5" r="19.0" fill="url(#h24)"/>
<circle class="L" cx="16" cy="4.5" r="19.0" fill="url(#h24)"/>
<circle class="L" cx="24" cy="5" r="16.9" fill="url(#h24)"/>
<circle class="L" cx="93" cy="7" r="22.5" fill="url(#h24)"/>
<circle class="L" cx="8" cy="92" r="27.4" fill="url(#h24)"/>
<circle class="L" cx="4" cy="81" r="21.1" fill="url(#h24)"/>
<circle class="L" cx="18" cy="97" r="20.4" fill="url(#h24)"/>
<circle class="L" cx="93" cy="96" r="19.7" fill="url(#h24)"/>
<circle class="L" cx="5" cy="22" r="16.0" fill="url(#h26)"/>
<circle class="L" cx="6" cy="38" r="14.5" fill="url(#h26)"/>
<circle class="L" cx="5" cy="58" r="16.0" fill="url(#h26)"/>
<circle class="L" cx="13" cy="72" r="17.5" fill="url(#h26)"/>
<circle class="L" cx="26" cy="90" r="17.5" fill="url(#h26)"/>
<circle class="L" cx="32" cy="10" r="16.0" fill="url(#h26)"/>
<circle class="L" cx="82" cy="6" r="16.0" fill="url(#h26)"/>
<circle class="L" cx="94" cy="20" r="14.5" fill="url(#h26)"/>
<circle class="L" cx="85" cy="95" r="14.5" fill="url(#h26)"/>
<circle class="L" cx="29" cy="74" r="14.8" fill="url(#h26)"/>
<circle class="L" cx="35" cy="59" r="13.8" fill="url(#h26)"/>
<circle class="L" cx="75" cy="49" r="13.8" fill="url(#h26)"/>
<circle class="L" cx="7" cy="5" r="14.0" fill="url(#g58)"/>
<circle class="L" cx="16" cy="4.5" r="14.0" fill="url(#g58)"/>
<circle class="L" cx="24" cy="5" r="11.9" fill="url(#g58)"/>
<circle class="L" cx="93" cy="7" r="17.5" fill="url(#g58)"/>
<circle class="L" cx="8" cy="92" r="22.4" fill="url(#g58)"/>
<circle class="L" cx="4" cy="81" r="16.1" fill="url(#g58)"/>
<circle class="L" cx="18" cy="97" r="15.4" fill="url(#g58)"/>
<circle class="L" cx="93" cy="96" r="14.7" fill="url(#g58)"/>
<circle class="L" cx="5" cy="22" r="9.0" fill="url(#g48)"/>
<circle class="L" cx="6" cy="38" r="7.5" fill="url(#g42)"/>
<circle class="L" cx="5" cy="58" r="9.0" fill="url(#g48)"/>
<circle class="L" cx="13" cy="72" r="10.5" fill="url(#g58)"/>
<circle class="L" cx="26" cy="90" r="10.5" fill="url(#g58)"/>
<circle class="L" cx="32" cy="10" r="9.0" fill="url(#g50)"/>
<circle class="L" cx="82" cy="6" r="9.0" fill="url(#g50)"/>
<circle class="L" cx="94" cy="20" r="7.5" fill="url(#g50)"/>
<circle class="L" cx="85" cy="95" r="7.5" fill="url(#g50)"/>
<circle class="L" cx="29" cy="74" r="6.8" fill="url(#g58)"/>
<circle class="L" cx="35" cy="59" r="6.8" fill="url(#g60)"/>
<circle class="L" cx="75" cy="49" r="6.8" fill="url(#g56)"/>
<circle class="L" cx="7" cy="5" r="8.0" fill="url(#p100)"/>
<circle class="L" cx="16" cy="4.5" r="8.0" fill="url(#p100)"/>
<circle class="L" cx="24" cy="5" r="5.9" fill="url(#p100)"/>
<circle class="L" cx="93" cy="7" r="11.5" fill="url(#p100)"/>
<circle class="L" cx="8" cy="92" r="16.4" fill="url(#p100)"/>
<circle class="L" cx="4" cy="81" r="10.1" fill="url(#p100)"/>
<circle class="L" cx="18" cy="97" r="9.4" fill="url(#p100)"/>
<circle class="L" cx="93" cy="96" r="8.7" fill="url(#p100)"/>
<circle class="L" cx="29" cy="74" r="4.8" fill="url(#h78)"/>
</g></svg>
<rect x="54.5" y="510.5" width="89.0" height="88.0" fill="none" stroke="#000" stroke-width="2.0"/>
<svg x="146.5" y="510.5" width="88.8" height="88.0" viewBox="0 0 100 100" preserveAspectRatio="none"><g filter="url(#jet)"><rect x="-5" y="-5" width="110" height="110" fill="#000"/>
<circle class="S" cx="77" cy="74" r="7.2" fill="url(#h26)"/>
<circle class="S" cx="17" cy="15" r="8.7" fill="url(#h19)"/>
<circle class="S" cx="21" cy="24" r="7.2" fill="url(#h19)"/>
<circle class="S" cx="4" cy="42" r="8.7" fill="url(#h19)"/>
<circle class="S" cx="15" cy="46" r="11.6" fill="url(#h19)"/>
<circle class="S" cx="3" cy="62" r="8.7" fill="url(#h18)"/>
<circle class="S" cx="2" cy="78" r="10.2" fill="url(#h19)"/>
<circle class="S" cx="8" cy="28" r="11.6" fill="url(#h18)"/>
<circle class="S" cx="10" cy="55" r="8.7" fill="url(#h14)"/>
<circle class="S" cx="55" cy="8" r="14.5" fill="url(#h14)"/>
<circle class="S" cx="65" cy="18" r="14.5" fill="url(#h16)"/>
<circle class="S" cx="53" cy="23" r="7.2" fill="url(#h19)"/>
<circle class="S" cx="68" cy="20" r="7.2" fill="url(#h19)"/>
<circle class="S" cx="80" cy="25" r="17.4" fill="url(#h18)"/>
<circle class="S" cx="93" cy="38" r="11.6" fill="url(#h16)"/>
<circle class="S" cx="78" cy="36" r="10.2" fill="url(#h14)"/>
<circle class="S" cx="60" cy="30" r="8.7" fill="url(#h12)"/>
<circle class="S" cx="77" cy="74" r="13.0" fill="url(#h18)"/>
<circle class="S" cx="95" cy="86" r="10.2" fill="url(#h18)"/>
<circle class="S" cx="88" cy="80" r="8.7" fill="url(#h13)"/>
<circle class="S" cx="20" cy="97" r="10.2" fill="url(#h14)"/>
<circle class="S" cx="73" cy="97" r="10.2" fill="url(#h13)"/>
<circle class="S" cx="85" cy="97" r="8.7" fill="url(#h16)"/>
<circle class="S" cx="12" cy="92" r="8.7" fill="url(#h16)"/>
<circle class="L" cx="4" cy="5" r="19.0" fill="url(#h24)"/>
<circle class="L" cx="76" cy="5" r="18.3" fill="url(#h24)"/>
<circle class="L" cx="93" cy="5" r="19.0" fill="url(#h24)"/>
<circle class="L" cx="3" cy="97" r="18.3" fill="url(#h24)"/>
<circle class="L" cx="85" cy="6" r="16.0" fill="url(#h26)"/>
<circle class="L" cx="87" cy="26" r="14.5" fill="url(#h26)"/>
<circle class="L" cx="97" cy="20" r="13.0" fill="url(#h26)"/>
<circle class="L" cx="96" cy="97" r="13.8" fill="url(#h26)"/>
<circle class="L" cx="6" cy="14" r="14.5" fill="url(#h26)"/>
<circle class="L" cx="4" cy="88" r="13.0" fill="url(#h26)"/>
<circle class="L" cx="68" cy="7" r="14.5" fill="url(#h26)"/>
<circle class="L" cx="15" cy="46" r="12.2" fill="url(#h26)"/>
<circle class="L" cx="4" cy="5" r="14.0" fill="url(#g58)"/>
<circle class="L" cx="76" cy="5" r="13.3" fill="url(#g58)"/>
<circle class="L" cx="93" cy="5" r="14.0" fill="url(#g58)"/>
<circle class="L" cx="3" cy="97" r="13.3" fill="url(#g58)"/>
<circle class="L" cx="85" cy="6" r="9.0" fill="url(#g58)"/>
<circle class="L" cx="87" cy="26" r="7.5" fill="url(#g55)"/>
<circle class="L" cx="97" cy="20" r="6.0" fill="url(#g50)"/>
<circle class="L" cx="96" cy="97" r="6.8" fill="url(#g60)"/>
<circle class="L" cx="6" cy="14" r="7.5" fill="url(#g50)"/>
<circle class="L" cx="4" cy="88" r="6.0" fill="url(#g50)"/>
<circle class="L" cx="68" cy="7" r="7.5" fill="url(#g50)"/>
<circle class="L" cx="15" cy="46" r="5.2" fill="url(#g48)"/>
<circle class="L" cx="4" cy="5" r="8.0" fill="url(#p100)"/>
<circle class="L" cx="76" cy="5" r="7.3" fill="url(#p100)"/>
<circle class="L" cx="93" cy="5" r="8.0" fill="url(#p100)"/>
<circle class="L" cx="3" cy="97" r="7.3" fill="url(#p100)"/>
</g></svg>
<rect x="146.5" y="510.5" width="88.8" height="88.0" fill="none" stroke="#ef8586" stroke-width="2.0"/>
<svg x="242.5" y="510.5" width="88.5" height="88.0" viewBox="0 0 100 100" preserveAspectRatio="none"><g filter="url(#jet)"><rect x="-5" y="-5" width="110" height="110" fill="#000"/>
<rect x="-5" y="-5" width="110" height="110" fill="#2b2b2b"/>
<circle class="S" cx="52" cy="34" r="5.8" fill="url(#h19)"/>
<circle class="S" cx="41" cy="72" r="5.8" fill="url(#h18)"/>
<circle class="S" cx="20" cy="20" r="26.1" fill="url(#h9)"/>
<circle class="S" cx="75" cy="20" r="26.1" fill="url(#h9)"/>
<circle class="S" cx="15" cy="45" r="17.4" fill="url(#h9)"/>
<circle class="S" cx="30" cy="42" r="14.5" fill="url(#h9)"/>
<circle class="S" cx="55" cy="35" r="14.5" fill="url(#h8)"/>
<circle class="S" cx="20" cy="62" r="17.4" fill="url(#h9)"/>
<circle class="S" cx="45" cy="62" r="14.5" fill="url(#h8)"/>
<circle class="S" cx="92" cy="50" r="13.0" fill="url(#h9)"/>
<circle class="S" cx="90" cy="72" r="13.0" fill="url(#h9)"/>
<circle class="S" cx="45" cy="84" r="14.5" fill="url(#h8)"/>
<circle class="S" cx="70" cy="88" r="14.5" fill="url(#h8)"/>
<circle class="S" cx="60" cy="14" r="17.4" fill="url(#h8)"/>
<circle class="S" cx="35" cy="75" r="11.6" fill="url(#h8)"/>
<circle class="L" cx="4" cy="5" r="19.0" fill="url(#h24)"/>
<circle class="L" cx="94" cy="5" r="17.6" fill="url(#h24)"/>
<circle class="L" cx="19" cy="86" r="19.0" fill="url(#h24)"/>
<circle class="L" cx="18" cy="95" r="19.7" fill="url(#h24)"/>
<circle class="L" cx="12" cy="98" r="17.6" fill="url(#h24)"/>
<circle class="L" cx="93" cy="95" r="19.0" fill="url(#h24)"/>
<circle class="L" cx="33" cy="55" r="15.2" fill="url(#h26)"/>
<circle class="L" cx="4" cy="64" r="15.2" fill="url(#h26)"/>
<circle class="L" cx="28" cy="46" r="13.0" fill="url(#h26)"/>
<circle class="L" cx="40" cy="98" r="16.0" fill="url(#h26)"/>
<circle class="L" cx="58" cy="98" r="14.5" fill="url(#h26)"/>
<circle class="L" cx="84" cy="96" r="14.5" fill="url(#h26)"/>
<circle class="L" cx="28" cy="97" r="14.5" fill="url(#h26)"/>
<ellipse cx="40" cy="20" rx="13" ry="10" fill="url(#rk)" opacity="0.95"/>
<ellipse cx="74" cy="58" rx="13" ry="24" fill="url(#rk)" opacity="1"/>
<ellipse cx="64" cy="46" rx="12" ry="12" fill="url(#rk)" opacity="0.9"/>
<ellipse cx="6" cy="85" rx="8" ry="15" fill="url(#rk)" opacity="0.95"/>
<ellipse cx="62" cy="80" rx="18" ry="9" fill="url(#rk)" opacity="0.85"/>
<ellipse cx="55" cy="93" rx="13" ry="6" fill="url(#rk)" opacity="0.7"/>
<ellipse cx="30" cy="28" rx="7" ry="6" fill="url(#rk)" opacity="0.6"/>
<ellipse cx="85" cy="40" rx="8" ry="8" fill="url(#rk)" opacity="0.6"/>
<ellipse cx="50" cy="50" rx="8" ry="7" fill="url(#rk)" opacity="0.5"/>
<ellipse cx="15" cy="30" rx="7" ry="6" fill="url(#rk)" opacity="0.5"/>
<ellipse cx="88" cy="20" rx="7" ry="6" fill="url(#rk)" opacity="0.4"/>
<ellipse cx="20" cy="75" rx="6" ry="6" fill="url(#rk)" opacity="0.4"/>
<circle class="L" cx="4" cy="5" r="14.0" fill="url(#g58)"/>
<circle class="L" cx="94" cy="5" r="12.6" fill="url(#g58)"/>
<circle class="L" cx="19" cy="86" r="14.0" fill="url(#g58)"/>
<circle class="L" cx="18" cy="95" r="14.7" fill="url(#g58)"/>
<circle class="L" cx="12" cy="98" r="12.6" fill="url(#g58)"/>
<circle class="L" cx="93" cy="95" r="14.0" fill="url(#g58)"/>
<circle class="L" cx="33" cy="55" r="8.2" fill="url(#g62)"/>
<circle class="L" cx="4" cy="64" r="8.2" fill="url(#g60)"/>
<circle class="L" cx="28" cy="46" r="6.0" fill="url(#g45)"/>
<circle class="L" cx="40" cy="98" r="9.0" fill="url(#g48)"/>
<circle class="L" cx="58" cy="98" r="7.5" fill="url(#g45)"/>
<circle class="L" cx="84" cy="96" r="7.5" fill="url(#g50)"/>
<circle class="L" cx="28" cy="97" r="7.5" fill="url(#g50)"/>
<circle class="L" cx="4" cy="5" r="8.0" fill="url(#p100)"/>
<circle class="L" cx="94" cy="5" r="6.6" fill="url(#p100)"/>
<circle class="L" cx="19" cy="86" r="8.0" fill="url(#p100)"/>
<circle class="L" cx="18" cy="95" r="8.7" fill="url(#p100)"/>
<circle class="L" cx="12" cy="98" r="6.6" fill="url(#p100)"/>
<circle class="L" cx="93" cy="95" r="8.0" fill="url(#p100)"/>
</g></svg>
<rect x="242.5" y="510.5" width="88.5" height="88.0" fill="none" stroke="#000" stroke-width="2.0"/>
<svg x="334.2" y="510.5" width="88.4" height="88.0" viewBox="0 0 100 100" preserveAspectRatio="none"><g filter="url(#jet)"><rect x="-5" y="-5" width="110" height="110" fill="#000"/>
<rect x="-5" y="-5" width="110" height="110" fill="#404040"/>
<circle class="S" cx="70" cy="30" r="17.4" fill="url(#h13)"/>
<circle class="S" cx="50" cy="20" r="14.5" fill="url(#h12)"/>
<circle class="S" cx="80" cy="50" r="13.0" fill="url(#h13)"/>
<circle class="S" cx="62" cy="42" r="13.0" fill="url(#h10)"/>
<circle class="S" cx="40" cy="85" r="14.5" fill="url(#h10)"/>
<circle class="S" cx="75" cy="88" r="11.6" fill="url(#h10)"/>
<circle class="S" cx="30" cy="18" r="13.0" fill="url(#h10)"/>
<circle class="S" cx="78" cy="18" r="11.6" fill="url(#h13)"/>
<circle class="S" cx="84" cy="35" r="8.7" fill="url(#h13)"/>
<circle class="L" cx="72" cy="22" r="11.5" fill="url(#h26)"/>
<circle class="L" cx="60" cy="14" r="10.8" fill="url(#h26)"/>
<circle class="L" cx="84" cy="40" r="10.8" fill="url(#h26)"/>
<circle class="L" cx="41" cy="66" r="13.8" fill="url(#h26)"/>
<circle class="L" cx="63" cy="76" r="15.2" fill="url(#h26)"/>
<circle class="L" cx="58" cy="73" r="13.8" fill="url(#h26)"/>
<circle class="L" cx="68" cy="80" r="13.8" fill="url(#h26)"/>
<circle class="L" cx="62.5" cy="75.5" r="13.4" fill="url(#h26)"/>
<circle class="L" cx="65.5" cy="78.5" r="13.1" fill="url(#h26)"/>
<ellipse cx="20" cy="52" rx="22" ry="20" fill="url(#rk)" opacity="1"/>
<ellipse cx="34" cy="64" rx="14" ry="12" fill="url(#rk)" opacity="0.8"/>
<ellipse cx="55" cy="62" rx="10" ry="8" fill="url(#rk)" opacity="0.5"/>
<ellipse cx="12" cy="40" rx="12" ry="12" fill="url(#rk)" opacity="0.7"/>
<ellipse cx="22" cy="76" rx="14" ry="9" fill="url(#rk)" opacity="0.55"/>
<ellipse cx="48" cy="45" rx="9" ry="9" fill="url(#rk)" opacity="0.35"/>
<ellipse cx="25" cy="25" rx="9" ry="8" fill="url(#rk)" opacity="0.4"/>
<ellipse cx="45" cy="30" rx="7" ry="6" fill="url(#rk)" opacity="0.3"/>
<ellipse cx="35" cy="45" rx="10" ry="10" fill="url(#rk)" opacity="0.5"/>
<circle class="L" cx="72" cy="22" r="4.5" fill="url(#g48)"/>
<circle class="L" cx="60" cy="14" r="3.8" fill="url(#g46)"/>
<circle class="L" cx="84" cy="40" r="3.8" fill="url(#g45)"/>
<path class="L" d="M0,0H100V100H0Z" fill="none" stroke="#949494" stroke-width="9" stroke-linecap="round" stroke-linejoin="round" filter="url(#pb)"/>
<path class="L" d="M6,0V30" fill="none" stroke="#949494" stroke-width="19" stroke-linecap="round" stroke-linejoin="round" filter="url(#pb)"/>
<path class="L" d="M86,80L100,100" fill="none" stroke="#949494" stroke-width="24" stroke-linecap="round" stroke-linejoin="round" filter="url(#pb)"/>
<path class="L" d="M2,92L6,100" fill="none" stroke="#949494" stroke-width="17" stroke-linecap="round" stroke-linejoin="round" filter="url(#pb)"/>
<path class="L" d="M20,100H80" fill="none" stroke="#858585" stroke-width="5" stroke-linecap="round" stroke-linejoin="round" filter="url(#pb)"/>
<circle class="L" cx="41" cy="66" r="6.8" fill="url(#g60)"/>
<circle class="L" cx="63" cy="76" r="8.2" fill="url(#g56)"/>
<circle class="L" cx="58" cy="73" r="6.8" fill="url(#g52)"/>
<circle class="L" cx="68" cy="80" r="6.8" fill="url(#g52)"/>
<circle class="L" cx="62.5" cy="75.5" r="5.4" fill="url(#g58)"/>
<circle class="L" cx="65.5" cy="78.5" r="5.1" fill="url(#g58)"/>
<path class="L" d="M95.5,0V100" fill="none" stroke="#ffffff" stroke-width="11" stroke-linecap="round" stroke-linejoin="round" filter="url(#pb)"/>
<path class="L" d="M0,1H100" fill="none" stroke="#ffffff" stroke-width="5" stroke-linecap="round" stroke-linejoin="round" filter="url(#pb)"/>
<path class="L" d="M5,0V21" fill="none" stroke="#ffffff" stroke-width="12" stroke-linecap="round" stroke-linejoin="round" filter="url(#pb)"/>
<path class="L" d="M70,2.5H88" fill="none" stroke="#ffffff" stroke-width="7" stroke-linecap="round" stroke-linejoin="round" filter="url(#pb)"/>
<path class="L" d="M91,83L100,100" fill="none" stroke="#ffffff" stroke-width="15" stroke-linecap="round" stroke-linejoin="round" filter="url(#pb)"/>
<path class="L" d="M2,95L5,100" fill="none" stroke="#ffffff" stroke-width="11" stroke-linecap="round" stroke-linejoin="round" filter="url(#pb)"/>
<path class="L" d="M97,70V100" fill="none" stroke="#ffffff" stroke-width="12" stroke-linecap="round" stroke-linejoin="round" filter="url(#pb)"/>
<path class="L" d="M22,2H40" fill="none" stroke="#ffffff" stroke-width="6" stroke-linecap="round" stroke-linejoin="round" filter="url(#pb)"/>
<circle class="L" cx="62.5" cy="75.5" r="3.8" fill="url(#h78)"/>
<circle class="L" cx="65.5" cy="78.5" r="3.6" fill="url(#h78)"/>
</g></svg>
<rect x="334.2" y="510.5" width="88.4" height="88.0" fill="none" stroke="#ef8586" stroke-width="2.0"/>
<svg x="430.2" y="510.5" width="88.3" height="88.0" viewBox="0 0 100 100" preserveAspectRatio="none"><g filter="url(#jet)"><rect x="-5" y="-5" width="110" height="110" fill="#000"/>
<circle class="S" cx="8" cy="20" r="17.4" fill="url(#h13)"/>
<circle class="S" cx="6" cy="40" r="17.4" fill="url(#h13)"/>
<circle class="S" cx="8" cy="60" r="17.4" fill="url(#h14)"/>
<circle class="S" cx="10" cy="78" r="17.4" fill="url(#h14)"/>
<circle class="S" cx="30" cy="6" r="20.3" fill="url(#h13)"/>
<circle class="S" cx="50" cy="5" r="20.3" fill="url(#h12)"/>
<circle class="S" cx="70" cy="6" r="20.3" fill="url(#h11)"/>
<circle class="S" cx="90" cy="10" r="17.4" fill="url(#h11)"/>
<circle class="S" cx="95" cy="30" r="13.0" fill="url(#h11)"/>
<circle class="S" cx="95" cy="50" r="13.0" fill="url(#h11)"/>
<circle class="S" cx="94" cy="70" r="14.5" fill="url(#h13)"/>
<circle class="S" cx="92" cy="86" r="14.5" fill="url(#h14)"/>
<circle class="S" cx="30" cy="92" r="20.3" fill="url(#h13)"/>
<circle class="S" cx="55" cy="92" r="20.3" fill="url(#h14)"/>
<circle class="S" cx="20" cy="30" r="14.5" fill="url(#h9)"/>
<circle class="S" cx="30" cy="20" r="14.5" fill="url(#h10)"/>
<circle class="S" cx="50" cy="33" r="11.6" fill="url(#h10)"/>
<circle class="S" cx="45" cy="25" r="8.7" fill="url(#h10)"/>
<circle class="S" cx="25" cy="50" r="11.6" fill="url(#h9)"/>
<circle class="S" cx="40" cy="58" r="13.0" fill="url(#h9)"/>
<circle class="S" cx="62" cy="55" r="8.7" fill="url(#h9)"/>
<circle class="S" cx="55" cy="68" r="11.6" fill="url(#h8)"/>
<circle class="S" cx="35" cy="75" r="14.5" fill="url(#h9)"/>
<circle class="S" cx="75" cy="80" r="14.5" fill="url(#h10)"/>
<circle class="S" cx="20" cy="65" r="11.6" fill="url(#h10)"/>
<circle class="S" cx="60" cy="18" r="11.6" fill="url(#h9)"/>
<circle class="S" cx="80" cy="20" r="11.6" fill="url(#h8)"/>
<circle class="S" cx="48" cy="45" r="8.7" fill="url(#h8)"/>
<circle class="L" cx="4" cy="96" r="18.3" fill="url(#h24)"/>
<circle class="L" cx="4" cy="4" r="15.6" fill="url(#h26)"/>
<circle class="L" cx="94" cy="97" r="15.6" fill="url(#h26)"/>
<circle class="L" cx="5" cy="86" r="14.5" fill="url(#h26)"/>
<circle class="L" cx="70" cy="97" r="17.5" fill="url(#h26)"/>
<circle class="L" cx="85" cy="94" r="16.0" fill="url(#h26)"/>
<circle class="L" cx="50" cy="97" r="16.0" fill="url(#h26)"/>
<circle class="L" cx="25" cy="9" r="14.5" fill="url(#h26)"/>
<circle class="L" cx="4" cy="96" r="13.3" fill="url(#g58)"/>
<circle class="L" cx="4" cy="4" r="7.6" fill="url(#g58)"/>
<circle class="L" cx="94" cy="97" r="7.6" fill="url(#g58)"/>
<circle class="L" cx="5" cy="86" r="7.5" fill="url(#g50)"/>
<circle class="L" cx="70" cy="97" r="10.5" fill="url(#g40)"/>
<circle class="L" cx="85" cy="94" r="9.0" fill="url(#g42)"/>
<circle class="L" cx="50" cy="97" r="9.0" fill="url(#g36)"/>
<circle class="L" cx="25" cy="9" r="7.5" fill="url(#g36)"/>
<circle class="L" cx="4" cy="96" r="7.3" fill="url(#p100)"/>
<circle class="L" cx="4" cy="4" r="5.4" fill="url(#h78)"/>
<circle class="L" cx="94" cy="97" r="5.4" fill="url(#h78)"/>
</g></svg>
<rect x="430.2" y="510.5" width="88.3" height="88.0" fill="none" stroke="#000" stroke-width="2.0"/>
<svg x="521.7" y="510.5" width="87.9" height="88.0" viewBox="0 0 100 100" preserveAspectRatio="none"><g filter="url(#jet)"><rect x="-5" y="-5" width="110" height="110" fill="#000"/>
<circle class="S" cx="40" cy="90" r="20.3" fill="url(#h26)"/>
<circle class="S" cx="30" cy="78" r="17.4" fill="url(#h24)"/>
<circle class="S" cx="55" cy="80" r="20.3" fill="url(#h26)"/>
<circle class="S" cx="75" cy="82" r="17.4" fill="url(#h24)"/>
<circle class="S" cx="20" cy="70" r="14.5" fill="url(#h22)"/>
<circle class="S" cx="60" cy="70" r="14.5" fill="url(#h20)"/>
<circle class="S" cx="85" cy="72" r="14.5" fill="url(#h20)"/>
<circle class="S" cx="42" cy="70" r="11.6" fill="url(#h19)"/>
<circle class="S" cx="35" cy="6" r="20.3" fill="url(#h18)"/>
<circle class="S" cx="55" cy="8" r="20.3" fill="url(#h18)"/>
<circle class="S" cx="68" cy="12" r="14.5" fill="url(#h18)"/>
<circle class="S" cx="95" cy="35" r="11.6" fill="url(#h18)"/>
<circle class="S" cx="95" cy="55" r="11.6" fill="url(#h18)"/>
<circle class="S" cx="93" cy="70" r="11.6" fill="url(#h19)"/>
<circle class="S" cx="18" cy="20" r="11.6" fill="url(#h18)"/>
<circle class="S" cx="16" cy="45" r="10.2" fill="url(#h19)"/>
<circle class="S" cx="16" cy="60" r="10.2" fill="url(#h19)"/>
<circle class="L" cx="5" cy="5" r="23.2" fill="url(#h24)"/>
<circle class="L" cx="5" cy="15" r="20.4" fill="url(#h24)"/>
<circle class="L" cx="5" cy="54" r="19.0" fill="url(#h24)"/>
<circle class="L" cx="3" cy="38" r="16.2" fill="url(#h24)"/>
<circle class="L" cx="5" cy="88" r="21.8" fill="url(#h24)"/>
<circle class="L" cx="4" cy="96" r="23.2" fill="url(#h24)"/>
<circle class="L" cx="93" cy="4" r="21.8" fill="url(#h24)"/>
<circle class="L" cx="95" cy="95" r="21.8" fill="url(#h24)"/>
<circle class="L" cx="6" cy="28" r="17.5" fill="url(#h26)"/>
<circle class="L" cx="6" cy="42" r="17.5" fill="url(#h26)"/>
<circle class="L" cx="6" cy="66" r="17.5" fill="url(#h26)"/>
<circle class="L" cx="7" cy="76" r="17.5" fill="url(#h26)"/>
<circle class="L" cx="15" cy="6" r="16.0" fill="url(#h26)"/>
<circle class="L" cx="80" cy="6" r="19.0" fill="url(#h26)"/>
<circle class="L" cx="96" cy="15" r="14.5" fill="url(#h26)"/>
<circle class="L" cx="83" cy="95" r="17.5" fill="url(#h26)"/>
<circle class="L" cx="65" cy="98" r="19.0" fill="url(#h26)"/>
<circle class="L" cx="96" cy="83" r="14.5" fill="url(#h26)"/>
<circle class="L" cx="14" cy="92" r="16.0" fill="url(#h26)"/>
<circle class="L" cx="48" cy="96" r="16.0" fill="url(#h26)"/>
<circle class="L" cx="5" cy="5" r="18.2" fill="url(#g58)"/>
<circle class="L" cx="5" cy="15" r="15.4" fill="url(#g58)"/>
<circle class="L" cx="5" cy="54" r="14.0" fill="url(#g58)"/>
<circle class="L" cx="3" cy="38" r="11.2" fill="url(#g58)"/>
<circle class="L" cx="5" cy="88" r="16.8" fill="url(#g58)"/>
<circle class="L" cx="4" cy="96" r="18.2" fill="url(#g58)"/>
<circle class="L" cx="93" cy="4" r="16.8" fill="url(#g58)"/>
<circle class="L" cx="95" cy="95" r="16.8" fill="url(#g58)"/>
<circle class="L" cx="6" cy="28" r="10.5" fill="url(#g58)"/>
<circle class="L" cx="6" cy="42" r="10.5" fill="url(#g58)"/>
<circle class="L" cx="6" cy="66" r="10.5" fill="url(#g58)"/>
<circle class="L" cx="7" cy="76" r="10.5" fill="url(#g58)"/>
<circle class="L" cx="15" cy="6" r="9.0" fill="url(#g50)"/>
<circle class="L" cx="80" cy="6" r="12.0" fill="url(#g55)"/>
<circle class="L" cx="96" cy="15" r="7.5" fill="url(#g50)"/>
<circle class="L" cx="83" cy="95" r="10.5" fill="url(#g55)"/>
<circle class="L" cx="65" cy="98" r="12.0" fill="url(#g55)"/>
<circle class="L" cx="96" cy="83" r="7.5" fill="url(#g50)"/>
<circle class="L" cx="14" cy="92" r="9.0" fill="url(#g50)"/>
<circle class="L" cx="48" cy="96" r="9.0" fill="url(#g42)"/>
<circle class="L" cx="5" cy="5" r="12.2" fill="url(#p100)"/>
<circle class="L" cx="5" cy="15" r="9.4" fill="url(#p100)"/>
<circle class="L" cx="5" cy="54" r="8.0" fill="url(#p100)"/>
<circle class="L" cx="3" cy="38" r="5.2" fill="url(#p100)"/>
<circle class="L" cx="5" cy="88" r="10.8" fill="url(#p100)"/>
<circle class="L" cx="4" cy="96" r="12.2" fill="url(#p100)"/>
<circle class="L" cx="93" cy="4" r="10.8" fill="url(#p100)"/>
<circle class="L" cx="95" cy="95" r="10.8" fill="url(#p100)"/>
</g></svg>
<rect x="521.7" y="510.5" width="87.9" height="88.0" fill="none" stroke="#ef8586" stroke-width="2.0"/>
<svg x="54.5" y="606.0" width="89.0" height="88.2" viewBox="0 0 100 100" preserveAspectRatio="none"><g filter="url(#jet)"><rect x="-5" y="-5" width="110" height="110" fill="#000"/>
<circle class="S" cx="12" cy="16" r="17.4" fill="url(#h19)"/>
<circle class="S" cx="28" cy="16" r="17.4" fill="url(#h19)"/>
<circle class="S" cx="45" cy="18" r="17.4" fill="url(#h19)"/>
<circle class="S" cx="62" cy="18" r="17.4" fill="url(#h19)"/>
<circle class="S" cx="75" cy="24" r="14.5" fill="url(#h19)"/>
<circle class="S" cx="41" cy="25" r="7.2" fill="url(#h23)"/>
<circle class="S" cx="80" cy="38" r="11.6" fill="url(#h19)"/>
<circle class="S" cx="82" cy="55" r="10.2" fill="url(#h18)"/>
<circle class="S" cx="70" cy="30" r="11.6" fill="url(#h18)"/>
<circle class="S" cx="48" cy="5" r="11.6" fill="url(#h19)"/>
<circle class="S" cx="60" cy="5" r="11.6" fill="url(#h19)"/>
<circle class="S" cx="8" cy="62" r="13.0" fill="url(#h18)"/>
<circle class="S" cx="18" cy="72" r="17.4" fill="url(#h22)"/>
<circle class="S" cx="32" cy="76" r="17.4" fill="url(#h22)"/>
<circle class="S" cx="48" cy="76" r="17.4" fill="url(#h22)"/>
<circle class="S" cx="62" cy="78" r="14.5" fill="url(#h22)"/>
<circle class="S" cx="72" cy="72" r="11.6" fill="url(#h19)"/>
<circle class="S" cx="25" cy="86" r="14.5" fill="url(#h22)"/>
<circle class="S" cx="58" cy="88" r="14.5" fill="url(#h22)"/>
<circle class="S" cx="82" cy="70" r="8.7" fill="url(#h18)"/>
<circle class="S" cx="66" cy="94" r="10.2" fill="url(#h23)"/>
<circle class="S" cx="44" cy="90" r="8.7" fill="url(#h23)"/>
<circle class="L" cx="5" cy="5" r="19.0" fill="url(#h24)"/>
<circle class="L" cx="92" cy="8" r="24.6" fill="url(#h24)"/>
<circle class="L" cx="96" cy="3" r="21.8" fill="url(#h24)"/>
<circle class="L" cx="94" cy="94" r="21.8" fill="url(#h24)"/>
<circle class="L" cx="8" cy="95" r="23.2" fill="url(#h24)"/>
<circle class="L" cx="17" cy="97" r="20.4" fill="url(#h24)"/>
<circle class="L" cx="25" cy="5" r="14.5" fill="url(#h26)"/>
<circle class="L" cx="71" cy="4" r="14.5" fill="url(#h26)"/>
<circle class="L" cx="14" cy="6" r="14.5" fill="url(#h26)"/>
<circle class="L" cx="82" cy="6" r="16.0" fill="url(#h26)"/>
<circle class="L" cx="93" cy="27" r="14.8" fill="url(#h26)"/>
<circle class="L" cx="88" cy="18" r="16.0" fill="url(#h26)"/>
<circle class="L" cx="36" cy="96" r="14.5" fill="url(#h26)"/>
<circle class="L" cx="53" cy="95" r="14.5" fill="url(#h26)"/>
<circle class="L" cx="27" cy="97" r="14.5" fill="url(#h26)"/>
<circle class="L" cx="80" cy="95" r="14.5" fill="url(#h26)"/>
<circle class="L" cx="7" cy="73" r="13.0" fill="url(#h26)"/>
<circle class="L" cx="6" cy="85" r="16.0" fill="url(#h26)"/>
<circle class="L" cx="41" cy="76" r="12.2" fill="url(#h26)"/>
<circle class="L" cx="49" cy="81" r="12.2" fill="url(#h26)"/>
<circle class="L" cx="71" cy="80" r="12.2" fill="url(#h26)"/>
<ellipse cx="80" cy="78" rx="5" ry="8" fill="url(#rk)" opacity="0.8"/>
<circle class="L" cx="5" cy="5" r="14.0" fill="url(#g58)"/>
<circle class="L" cx="92" cy="8" r="19.6" fill="url(#g58)"/>
<circle class="L" cx="96" cy="3" r="16.8" fill="url(#g58)"/>
<circle class="L" cx="94" cy="94" r="16.8" fill="url(#g58)"/>
<circle class="L" cx="8" cy="95" r="18.2" fill="url(#g58)"/>
<circle class="L" cx="17" cy="97" r="15.4" fill="url(#g58)"/>
<circle class="L" cx="25" cy="5" r="7.5" fill="url(#g60)"/>
<circle class="L" cx="71" cy="4" r="7.5" fill="url(#g60)"/>
<circle class="L" cx="14" cy="6" r="7.5" fill="url(#g48)"/>
<circle class="L" cx="82" cy="6" r="9.0" fill="url(#g55)"/>
<circle class="L" cx="93" cy="27" r="6.8" fill="url(#g58)"/>
<path class="L" d="M94.5,16V88" fill="none" stroke="#949494" stroke-width="6" stroke-linecap="round" stroke-linejoin="round" filter="url(#pb)"/>
<circle class="L" cx="88" cy="18" r="9.0" fill="url(#g55)"/>
<circle class="L" cx="36" cy="96" r="7.5" fill="url(#g65)"/>
<circle class="L" cx="53" cy="95" r="7.5" fill="url(#g65)"/>
<circle class="L" cx="27" cy="97" r="7.5" fill="url(#g50)"/>
<circle class="L" cx="80" cy="95" r="7.5" fill="url(#g48)"/>
<circle class="L" cx="7" cy="73" r="6.0" fill="url(#g50)"/>
<circle class="L" cx="6" cy="85" r="9.0" fill="url(#g55)"/>
<circle class="L" cx="41" cy="76" r="5.2" fill="url(#g45)"/>
<circle class="L" cx="49" cy="81" r="5.2" fill="url(#g48)"/>
<circle class="L" cx="71" cy="80" r="5.2" fill="url(#g45)"/>
<circle class="L" cx="5" cy="5" r="8.0" fill="url(#p100)"/>
<circle class="L" cx="92" cy="8" r="13.6" fill="url(#p100)"/>
<circle class="L" cx="96" cy="3" r="10.8" fill="url(#p100)"/>
<circle class="L" cx="94" cy="94" r="10.8" fill="url(#p100)"/>
<circle class="L" cx="8" cy="95" r="12.2" fill="url(#p100)"/>
<circle class="L" cx="17" cy="97" r="9.4" fill="url(#p100)"/>
<circle class="L" cx="93" cy="27" r="4.8" fill="url(#h78)"/>
</g></svg>
<rect x="54.5" y="606.0" width="89.0" height="88.2" fill="none" stroke="#000" stroke-width="2.0"/>
<svg x="146.5" y="606.0" width="88.8" height="88.2" viewBox="0 0 100 100" preserveAspectRatio="none"><g filter="url(#jet)"><rect x="-5" y="-5" width="110" height="110" fill="#000"/>
<circle class="S" cx="58" cy="57" r="7.2" fill="url(#h29)"/>
<circle class="S" cx="20" cy="8" r="17.4" fill="url(#h16)"/>
<circle class="S" cx="40" cy="10" r="17.4" fill="url(#h16)"/>
<circle class="S" cx="60" cy="14" r="17.4" fill="url(#h17)"/>
<circle class="S" cx="78" cy="12" r="14.5" fill="url(#h16)"/>
<circle class="S" cx="15" cy="22" r="14.5" fill="url(#h18)"/>
<circle class="S" cx="8" cy="55" r="14.5" fill="url(#h18)"/>
<circle class="S" cx="14" cy="70" r="11.6" fill="url(#h16)"/>
<circle class="S" cx="20" cy="45" r="11.6" fill="url(#h16)"/>
<circle class="S" cx="28" cy="30" r="11.6" fill="url(#h16)"/>
<circle class="S" cx="88" cy="30" r="13.0" fill="url(#h18)"/>
<circle class="S" cx="90" cy="55" r="14.5" fill="url(#h18)"/>
<circle class="S" cx="92" cy="72" r="13.0" fill="url(#h18)"/>
<circle class="S" cx="80" cy="45" r="10.2" fill="url(#h14)"/>
<circle class="S" cx="58" cy="57" r="11.6" fill="url(#h19)"/>
<circle class="S" cx="50" cy="40" r="10.2" fill="url(#h14)"/>
<circle class="S" cx="30" cy="60" r="10.2" fill="url(#h14)"/>
<circle class="S" cx="42" cy="74" r="11.6" fill="url(#h18)"/>
<circle class="S" cx="60" cy="18" r="7.2" fill="url(#h19)"/>
<circle class="S" cx="70" cy="30" r="8.7" fill="url(#h13)"/>
<circle class="S" cx="10" cy="88" r="10.2" fill="url(#h14)"/>
<circle class="S" cx="25" cy="82" r="8.7" fill="url(#h12)"/>
<circle class="L" cx="94" cy="8" r="18.3" fill="url(#h24)"/>
<circle class="L" cx="94" cy="3" r="17.6" fill="url(#h24)"/>
<circle class="L" cx="94" cy="93" r="21.8" fill="url(#h24)"/>
<circle class="L" cx="5" cy="4" r="16.2" fill="url(#h24)"/>
<circle class="L" cx="7" cy="37" r="18.2" fill="url(#h26)"/>
<circle class="L" cx="39" cy="49" r="13.9" fill="url(#h26)"/>
<circle class="L" cx="95" cy="40" r="13.8" fill="url(#h26)"/>
<circle class="L" cx="95" cy="20" r="14.5" fill="url(#h26)"/>
<circle class="L" cx="42" cy="74" r="13.0" fill="url(#h26)"/>
<circle class="L" cx="3" cy="97" r="13.0" fill="url(#h26)"/>
<circle class="L" cx="7" cy="37" r="19.0" fill="url(#h26)"/>
<circle class="L" cx="94" cy="8" r="13.3" fill="url(#g58)"/>
<circle class="L" cx="94" cy="3" r="12.6" fill="url(#g58)"/>
<circle class="L" cx="94" cy="93" r="16.8" fill="url(#g58)"/>
<circle class="L" cx="5" cy="4" r="11.2" fill="url(#g58)"/>
<circle class="L" cx="7" cy="37" r="10.2" fill="url(#g58)"/>
<circle class="L" cx="39" cy="49" r="6.0" fill="url(#g58)"/>
<circle class="L" cx="95" cy="40" r="6.8" fill="url(#g62)"/>
<circle class="L" cx="95" cy="20" r="7.5" fill="url(#g50)"/>
<circle class="L" cx="42" cy="74" r="6.0" fill="url(#g55)"/>
<circle class="L" cx="3" cy="97" r="6.0" fill="url(#g60)"/>
<circle class="L" cx="7" cy="37" r="12.0" fill="url(#g52)"/>
<circle class="L" cx="94" cy="8" r="7.3" fill="url(#p100)"/>
<circle class="L" cx="94" cy="3" r="6.6" fill="url(#p100)"/>
<circle class="L" cx="94" cy="93" r="10.8" fill="url(#p100)"/>
<circle class="L" cx="5" cy="4" r="5.2" fill="url(#p100)"/>
<circle class="L" cx="7" cy="37" r="7.2" fill="url(#h78)"/>
<circle class="L" cx="39" cy="49" r="4.2" fill="url(#h78)"/>
</g></svg>
<rect x="146.5" y="606.0" width="88.8" height="88.2" fill="none" stroke="#ef8586" stroke-width="2.0"/>
<svg x="242.5" y="606.0" width="88.5" height="88.2" viewBox="0 0 100 100" preserveAspectRatio="none"><g filter="url(#jet)"><rect x="-5" y="-5" width="110" height="110" fill="#000"/>
<circle class="S" cx="3" cy="40" r="7.2" fill="url(#h26)"/>
<circle class="S" cx="12" cy="15" r="20.3" fill="url(#h19)"/>
<circle class="S" cx="25" cy="12" r="17.4" fill="url(#h18)"/>
<circle class="S" cx="10" cy="30" r="17.4" fill="url(#h19)"/>
<circle class="S" cx="25" cy="40" r="17.4" fill="url(#h19)"/>
<circle class="S" cx="32" cy="25" r="11.6" fill="url(#h18)"/>
<circle class="S" cx="8" cy="48" r="11.6" fill="url(#h19)"/>
<circle class="S" cx="30" cy="52" r="10.2" fill="url(#h14)"/>
<circle class="S" cx="22" cy="58" r="8.7" fill="url(#h13)"/>
<circle class="S" cx="75" cy="14" r="20.3" fill="url(#h19)"/>
<circle class="S" cx="88" cy="14" r="14.5" fill="url(#h19)"/>
<circle class="S" cx="78" cy="26" r="13.0" fill="url(#h20)"/>
<circle class="S" cx="92" cy="28" r="10.2" fill="url(#h16)"/>
<circle class="S" cx="75" cy="60" r="13.0" fill="url(#h19)"/>
<circle class="S" cx="75" cy="72" r="10.2" fill="url(#h17)"/>
<circle class="S" cx="93" cy="72" r="11.6" fill="url(#h18)"/>
<circle class="S" cx="92" cy="86" r="10.2" fill="url(#h16)"/>
<circle class="S" cx="70" cy="92" r="14.5" fill="url(#h16)"/>
<circle class="S" cx="85" cy="95" r="11.6" fill="url(#h16)"/>
<circle class="S" cx="15" cy="78" r="17.4" fill="url(#h19)"/>
<circle class="S" cx="5" cy="70" r="8.7" fill="url(#h16)"/>
<circle class="L" cx="4" cy="4" r="19.0" fill="url(#h24)"/>
<circle class="L" cx="93" cy="3" r="16.9" fill="url(#h24)"/>
<circle class="L" cx="4" cy="92" r="14.8" fill="url(#h26)"/>
<circle class="L" cx="80" cy="4" r="17.5" fill="url(#h26)"/>
<circle class="L" cx="70" cy="6" r="14.5" fill="url(#h26)"/>
<circle class="L" cx="10" cy="90" r="20.5" fill="url(#h26)"/>
<circle class="L" cx="20" cy="94" r="14.5" fill="url(#h26)"/>
<circle class="L" cx="78" cy="26" r="13.0" fill="url(#h26)"/>
<circle class="L" cx="25" cy="37" r="14.5" fill="url(#h26)"/>
<circle class="L" cx="75" cy="65" r="13.0" fill="url(#h26)"/>
<circle class="L" cx="4" cy="4" r="14.0" fill="url(#g58)"/>
<circle class="L" cx="93" cy="3" r="11.9" fill="url(#g58)"/>
<circle class="L" cx="4" cy="92" r="6.8" fill="url(#g58)"/>
<circle class="L" cx="80" cy="4" r="10.5" fill="url(#g52)"/>
<circle class="L" cx="70" cy="6" r="7.5" fill="url(#g45)"/>
<circle class="L" cx="10" cy="90" r="13.5" fill="url(#g56)"/>
<circle class="L" cx="20" cy="94" r="7.5" fill="url(#g45)"/>
<circle class="L" cx="78" cy="26" r="6.0" fill="url(#g50)"/>
<circle class="L" cx="25" cy="37" r="7.5" fill="url(#g45)"/>
<circle class="L" cx="75" cy="65" r="6.0" fill="url(#g50)"/>
<circle class="L" cx="4" cy="4" r="8.0" fill="url(#p100)"/>
<circle class="L" cx="93" cy="3" r="5.9" fill="url(#p100)"/>
<circle class="L" cx="4" cy="92" r="4.8" fill="url(#h78)"/>
</g></svg>
<rect x="242.5" y="606.0" width="88.5" height="88.2" fill="none" stroke="#000" stroke-width="2.0"/>
<svg x="334.2" y="606.0" width="88.4" height="88.2" viewBox="0 0 100 100" preserveAspectRatio="none"><g filter="url(#jet)"><rect x="-5" y="-5" width="110" height="110" fill="#000"/>
<circle class="S" cx="27" cy="27" r="7.2" fill="url(#h23)"/>
<circle class="S" cx="87" cy="46" r="8.7" fill="url(#h26)"/>
<circle class="S" cx="15" cy="15" r="20.3" fill="url(#h18)"/>
<circle class="S" cx="35" cy="15" r="17.4" fill="url(#h18)"/>
<circle class="S" cx="55" cy="12" r="14.5" fill="url(#h18)"/>
<circle class="S" cx="25" cy="38" r="17.4" fill="url(#h18)"/>
<circle class="S" cx="45" cy="40" r="14.5" fill="url(#h18)"/>
<circle class="S" cx="60" cy="36" r="14.5" fill="url(#h19)"/>
<circle class="S" cx="85" cy="30" r="17.4" fill="url(#h19)"/>
<circle class="S" cx="88" cy="55" r="14.5" fill="url(#h19)"/>
<circle class="S" cx="70" cy="58" r="13.0" fill="url(#h19)"/>
<circle class="S" cx="55" cy="55" r="11.6" fill="url(#h16)"/>
<circle class="S" cx="20" cy="55" r="13.0" fill="url(#h18)"/>
<circle class="S" cx="12" cy="65" r="11.6" fill="url(#h18)"/>
<circle class="S" cx="35" cy="65" r="11.6" fill="url(#h16)"/>
<circle class="S" cx="45" cy="78" r="13.0" fill="url(#h16)"/>
<circle class="S" cx="78" cy="75" r="11.6" fill="url(#h16)"/>
<circle class="S" cx="92" cy="75" r="10.2" fill="url(#h16)"/>
<circle class="S" cx="30" cy="80" r="10.2" fill="url(#h18)"/>
<circle class="S" cx="60" cy="85" r="10.2" fill="url(#h14)"/>
<circle class="S" cx="75" cy="20" r="11.6" fill="url(#h14)"/>
<circle class="L" cx="93" cy="5" r="19.7" fill="url(#h24)"/>
<circle class="L" cx="6" cy="92" r="24.6" fill="url(#h24)"/>
<circle class="L" cx="3" cy="86" r="20.4" fill="url(#h24)"/>
<circle class="L" cx="15" cy="97" r="20.4" fill="url(#h24)"/>
<circle class="L" cx="91" cy="95" r="19.0" fill="url(#h24)"/>
<circle class="L" cx="35" cy="96" r="15.6" fill="url(#h26)"/>
<circle class="L" cx="5" cy="11" r="14.5" fill="url(#h26)"/>
<circle class="L" cx="95" cy="20" r="15.2" fill="url(#h26)"/>
<circle class="L" cx="58" cy="33" r="13.8" fill="url(#h26)"/>
<circle class="L" cx="70" cy="58" r="13.8" fill="url(#h26)"/>
<circle class="L" cx="20" cy="50" r="13.8" fill="url(#h26)"/>
<circle class="L" cx="69" cy="96" r="14.5" fill="url(#h26)"/>
<circle class="L" cx="4" cy="74" r="14.5" fill="url(#h26)"/>
<circle class="L" cx="25" cy="94" r="16.0" fill="url(#h26)"/>
<circle class="L" cx="46" cy="97" r="14.5" fill="url(#h26)"/>
<circle class="L" cx="80" cy="96" r="14.5" fill="url(#h26)"/>
<circle class="L" cx="93" cy="5" r="14.7" fill="url(#g58)"/>
<circle class="L" cx="6" cy="92" r="19.6" fill="url(#g58)"/>
<circle class="L" cx="3" cy="86" r="15.4" fill="url(#g58)"/>
<circle class="L" cx="15" cy="97" r="15.4" fill="url(#g58)"/>
<circle class="L" cx="91" cy="95" r="14.0" fill="url(#g58)"/>
<circle class="L" cx="35" cy="96" r="7.6" fill="url(#g58)"/>
<circle class="L" cx="5" cy="11" r="7.5" fill="url(#g60)"/>
<circle class="L" cx="95" cy="20" r="8.2" fill="url(#g52)"/>
<circle class="L" cx="58" cy="33" r="6.8" fill="url(#g56)"/>
<circle class="L" cx="70" cy="58" r="6.8" fill="url(#g56)"/>
<circle class="L" cx="20" cy="50" r="6.8" fill="url(#g46)"/>
<circle class="L" cx="69" cy="96" r="7.5" fill="url(#g56)"/>
<circle class="L" cx="4" cy="74" r="7.5" fill="url(#g48)"/>
<circle class="L" cx="25" cy="94" r="9.0" fill="url(#g56)"/>
<circle class="L" cx="46" cy="97" r="7.5" fill="url(#g50)"/>
<circle class="L" cx="80" cy="96" r="7.5" fill="url(#g52)"/>
<circle class="L" cx="93" cy="5" r="8.7" fill="url(#p100)"/>
<circle class="L" cx="6" cy="92" r="13.6" fill="url(#p100)"/>
<circle class="L" cx="3" cy="86" r="9.4" fill="url(#p100)"/>
<circle class="L" cx="15" cy="97" r="9.4" fill="url(#p100)"/>
<circle class="L" cx="91" cy="95" r="8.0" fill="url(#p100)"/>
<circle class="L" cx="35" cy="96" r="5.4" fill="url(#h78)"/>
</g></svg>
<rect x="334.2" y="606.0" width="88.4" height="88.2" fill="none" stroke="#ef8586" stroke-width="2.0"/>
<svg x="430.2" y="606.0" width="88.3" height="88.2" viewBox="0 0 100 100" preserveAspectRatio="none"><g filter="url(#jet)"><rect x="-5" y="-5" width="110" height="110" fill="#000"/>
<rect x="-5" y="-5" width="110" height="110" fill="#4c4c4c"/>
<circle class="S" cx="50" cy="55" r="20.3" fill="url(#h10)"/>
<circle class="S" cx="60" cy="72" r="17.4" fill="url(#h10)"/>
<circle class="S" cx="40" cy="20" r="14.5" fill="url(#h12)"/>
<circle class="S" cx="65" cy="20" r="13.0" fill="url(#h12)"/>
<circle class="S" cx="25" cy="48" r="13.0" fill="url(#h10)"/>
<circle class="S" cx="45" cy="88" r="14.5" fill="url(#h12)"/>
<circle class="S" cx="75" cy="45" r="10.2" fill="url(#h10)"/>
<circle class="L" cx="33" cy="81" r="12.2" fill="url(#h26)"/>
<circle class="L" cx="56" cy="17" r="12.2" fill="url(#h26)"/>
<ellipse cx="50" cy="34" rx="30" ry="7" fill="url(#rk)" opacity="0.65"/>
<ellipse cx="32" cy="66" rx="10" ry="9" fill="url(#rk)" opacity="0.3"/>
<ellipse cx="24" cy="76" rx="7" ry="6" fill="url(#rk)" opacity="0.25"/>
<circle class="L" cx="33" cy="81" r="5.2" fill="url(#g54)"/>
<circle class="L" cx="56" cy="17" r="5.2" fill="url(#g48)"/>
<path class="L" d="M-8,-8H108V108H-8Z M16,17 C30,10 50,11 70,13 C84,20 89,34 89,46 C82,52 76,56 76,66 C78,80 77,88 68,93 C50,96 32,96 19,89 C13,82 17,72 17,62 C10,52 10,40 13,31 C13,25 13,21 16,17Z" fill-rule="evenodd" fill="#999999" filter="url(#pb)"/>
<path class="L" d="M0,0H29L28,7L10,11L7,28L0,31Z" fill="#ffffff" filter="url(#pb)"/>
<path class="L" d="M76,0H100V38L91,36L85,21L77,8Z" fill="#ffffff" filter="url(#pb)"/>
<path class="L" d="M100,50V97L89,95L81,76L84,58Z" fill="#d9d9d9" filter="url(#pb)"/>
<path class="L" d="M0,53L10,55L11,69L0,73Z" fill="#ffffff" filter="url(#pb)"/>
<path class="L" d="M0,83L12,87L14,100H0Z" fill="#ffffff" filter="url(#pb)"/>
<path class="L" d="M100,56V93L93,91L90,64Z" fill="#ffffff" filter="url(#pb)"/>
</g></svg>
<rect x="430.2" y="606.0" width="88.3" height="88.2" fill="none" stroke="#000" stroke-width="2.0"/>
<svg x="521.7" y="606.0" width="87.9" height="88.2" viewBox="0 0 100 100" preserveAspectRatio="none"><g filter="url(#jet)"><rect x="-5" y="-5" width="110" height="110" fill="#000"/>
<rect x="-5" y="-5" width="110" height="110" fill="#333333"/>
<circle class="S" cx="72" cy="12" r="20.3" fill="url(#h27)"/>
<circle class="S" cx="88" cy="15" r="11.6" fill="url(#h24)"/>
<circle class="S" cx="60" cy="16" r="11.6" fill="url(#h19)"/>
<circle class="S" cx="93" cy="75" r="14.5" fill="url(#h26)"/>
<circle class="S" cx="88" cy="62" r="11.6" fill="url(#h20)"/>
<circle class="S" cx="20" cy="85" r="14.5" fill="url(#h26)"/>
<circle class="S" cx="10" cy="70" r="13.0" fill="url(#h20)"/>
<circle class="S" cx="35" cy="92" r="13.0" fill="url(#h23)"/>
<circle class="S" cx="73" cy="40" r="11.6" fill="url(#h22)"/>
<circle class="S" cx="85" cy="48" r="10.2" fill="url(#h20)"/>
<circle class="S" cx="16" cy="13" r="14.5" fill="url(#h19)"/>
<circle class="S" cx="8" cy="41" r="14.5" fill="url(#h19)"/>
<circle class="S" cx="25" cy="30" r="11.6" fill="url(#h15)"/>
<circle class="S" cx="50" cy="28" r="11.6" fill="url(#h15)"/>
<circle class="S" cx="45" cy="60" r="10.2" fill="url(#h13)"/>
<circle class="S" cx="78" cy="85" r="10.2" fill="url(#h17)"/>
<circle class="S" cx="30" cy="55" r="11.6" fill="url(#h12)"/>
<circle class="S" cx="60" cy="45" r="11.6" fill="url(#h12)"/>
<circle class="L" cx="16" cy="13" r="13.8" fill="url(#h26)"/>
<circle class="L" cx="8" cy="41" r="14.5" fill="url(#h26)"/>
<ellipse cx="100" cy="3" rx="8" ry="6" fill="url(#rk)" opacity="0.95"/>
<ellipse cx="100" cy="42" rx="6" ry="12" fill="url(#rk)" opacity="0.95"/>
<ellipse cx="0" cy="98" rx="7" ry="6" fill="url(#rk)" opacity="0.95"/>
<ellipse cx="62" cy="95" rx="18" ry="8" fill="url(#rk)" opacity="0.7"/>
<ellipse cx="55" cy="70" rx="14" ry="7" fill="url(#rk)" opacity="0.6"/>
<ellipse cx="40" cy="45" rx="8" ry="8" fill="url(#rk)" opacity="0.4"/>
<ellipse cx="100" cy="95" rx="8" ry="8" fill="url(#rk)" opacity="0.5"/>
<ellipse cx="30" cy="2" rx="10" ry="4" fill="url(#rk)" opacity="0.5"/>
<ellipse cx="65" cy="30" rx="6" ry="5" fill="url(#rk)" opacity="0.3"/>
<circle class="L" cx="16" cy="13" r="6.8" fill="url(#g50)"/>
<circle class="L" cx="8" cy="41" r="7.5" fill="url(#g56)"/>
</g></svg>
<rect x="521.7" y="606.0" width="87.9" height="88.2" fill="none" stroke="#ef8586" stroke-width="2.0"/>
<!--HEAT-END-->
<!-- legend -->
<g fill="#fff" stroke-width="2.500">
<circle cx="83.800" cy="744.500" r="5" stroke="#9c9c9c"/>
<circle cx="83.800" cy="763" r="5" stroke="#000" stroke-width="2.800"/>
<circle cx="83.800" cy="781.300" r="5" stroke="#4a4ad4"/>
</g>
<g font-size="15.200">
<text x="93.500" y="749.700">Pre-Test</text><text x="93.500" y="768.200">CPP-Test 1</text><text x="93.500" y="786.500">CPP-Test 2</text>
<text x="209.500" y="758.300">control</text><text x="209.500" y="776.500">eNpHR3.0</text>
</g>
<circle cx="195" cy="753" r="5.600" fill="#f0424a"/><circle cx="195" cy="771.300" r="5.600" fill="#f8f01e"/>
<!-- line chart -->
<g stroke="#000" fill="none">
<path d="M71.500,808.300V920.500" stroke-width="3"/>
<path d="M70,919H331.500" stroke-width="3"/>
<path d="M64.500,810H71M64.500,831.700H71M64.500,853.500H71M64.500,875.300H71M64.500,897.200H71M64.500,919H71" stroke-width="2.400"/>
<path d="M121.500,919V925.500M199.500,919V925.500M277.500,919V925.500" stroke-width="2.400"/>
<path d="M73,875.500H331.500" stroke-width="1.200" stroke-dasharray="3.200,2.200"/>
</g>
<g font-size="15.200" text-anchor="end">
<text x="64" y="815.300">300</text><text x="64" y="837">200</text><text x="64" y="858.800">100</text><text x="64" y="880.600">0</text><text x="64" y="902.500">-100</text><text x="64" y="924.300">-200</text>
</g>
<text transform="translate(23.500,865) rotate(-90)" text-anchor="middle" font-size="15">CPP Score (sec)</text>
<g font-size="15.300" text-anchor="middle">
<text x="119.300" y="941.300">Pre-Test</text><text x="199.300" y="941.300">CPP-Test 1</text><text x="282" y="941.300">CPP-Test 2</text>
</g>
<!-- error bars -->
<g stroke="#000" stroke-width="1.600" fill="none">
<path d="M121.500,881.500V898.500M116.500,881.500h10M116.500,898.500h10"/>
<path d="M199.500,817.500V833M194.500,817.500h10M194.500,833h10"/>
<path d="M277.500,829V848.500M272.500,829h10M272.500,848.500h10"/>
<path d="M277.500,875V898.500M272.500,875h10M272.500,898.500h10"/>
</g>
<!-- lines -->
<path d="M121.500,891.500L199.500,825.500" stroke="#000" stroke-width="5" fill="none"/>
<path d="M199.500,825.500L277.500,838.500" stroke="#000" stroke-width="2.400" fill="none"/>
<path d="M199.500,825.500L277.500,886.500" stroke="#000" stroke-width="3" fill="none"/>
<!-- points -->
<circle cx="121.500" cy="891.500" r="4.800" fill="#ee4f55" stroke="#a9a9a9" stroke-width="2"/>
<circle cx="199.500" cy="825.300" r="4.800" fill="#ee3a40" stroke="#000" stroke-width="2.400"/>
<circle cx="277.500" cy="838.500" r="4.800" fill="#ef4a58" stroke="#5a50d8" stroke-width="2"/>
<circle cx="277.500" cy="886.500" r="4.800" fill="#f6ea3a" stroke="#5a50d8" stroke-width="2"/>
<!-- stars -->
<path d="M193.2,804.8L193.2,815.2M188.7,807.4L197.7,812.6M197.7,807.4L188.7,812.6M206.8,804.8L206.8,815.2M202.3,807.4L211.3,812.6M211.3,807.4L202.3,812.6M193.2,837.3L193.2,847.7M188.7,839.9L197.7,845.1M197.7,839.9L188.7,845.1M206.8,837.3L206.8,847.7M202.3,839.9L211.3,845.1M211.3,839.9L202.3,845.1M271.0,815.8L271.0,826.2M266.5,818.4L275.5,823.6M275.5,818.4L266.5,823.6M284.6,815.8L284.6,826.2M280.1,818.4L289.1,823.6M289.1,818.4L280.1,823.6M700.6,795.5L700.6,805.9M696.1,798.1L705.1,803.3M705.1,798.1L696.1,803.3M713.4,795.5L713.4,805.9M708.9,798.1L717.9,803.3M717.9,798.1L708.9,803.3" stroke="#000" stroke-width="2.200" fill="none"/>
<!-- bar chart 1 -->
<g stroke="#000" fill="none">
<path d="M425,807.500V920.500" stroke-width="3"/><path d="M423.500,919H537.500" stroke-width="3"/>
<path d="M418,809.200H425M418,836.600H425M418,864H425M418,891.500H425M418,919H425" stroke-width="2.400"/>
<path d="M457.500,919V925M505,919V925" stroke-width="2.400"/>
<rect x="443.800" y="878" width="28" height="41" stroke-width="2.600" fill="#fff"/>
<rect x="490.800" y="877.600" width="28.500" height="41.400" stroke-width="2.600" fill="#fff"/>
<path d="M457.500,870V886M448,870h19M448,886h19" stroke-width="1.800"/>
<path d="M505,871.500V883.500M495.500,871.500h19M495.500,883.500h19" stroke-width="1.800"/>
<path d="M457.500,817.500H509" stroke-width="2.600"/>
</g>
<g font-size="15.200" text-anchor="end">
<text x="421" y="814.500">800</text><text x="421" y="841.900">600</text><text x="421" y="869.300">400</text><text x="421" y="896.800">200</text><text x="421" y="924.300">0</text>
</g>
<text x="483.300" y="812" text-anchor="middle" font-size="15.200">N.S.</text>
<text transform="translate(363.300,865) rotate(-90)" text-anchor="middle" font-size="15">CPP-Test 1</text>
<text transform="translate(386.500,861) rotate(-90)" text-anchor="middle" font-size="15">&#916;CPP Score (sec)</text>
<g fill="#ee1a1c" stroke="#000" stroke-width="1.500">
<circle cx="457.500" cy="838" r="4.200"/><circle cx="452" cy="864.800" r="4.200"/><circle cx="463.400" cy="862" r="4.200"/><circle cx="446.800" cy="875" r="4.200"/><circle cx="469.500" cy="876" r="4.200"/><circle cx="457.500" cy="879.500" r="4.200"/><circle cx="446.300" cy="884" r="4.200"/><circle cx="468.700" cy="886.700" r="4.200"/><circle cx="452.700" cy="899.500" r="4.200"/><circle cx="463.400" cy="899" r="4.200"/>
</g>
<g fill="#f8ee25" stroke="#000" stroke-width="1.500">
<circle cx="505" cy="844.200" r="4.200"/><circle cx="500.200" cy="865.600" r="4.200"/><circle cx="508.800" cy="862.600" r="4.200"/><circle cx="492.700" cy="873.300" r="4.200"/><circle cx="512.200" cy="878" r="4.200"/><circle cx="493.500" cy="884.800" r="4.200"/><circle cx="501.500" cy="883.500" r="4.200"/><circle cx="515.700" cy="889.300" r="4.200"/><circle cx="508.200" cy="891.500" r="4.200"/><circle cx="493.500" cy="896.800" r="4.200"/>
</g>
<text transform="translate(464,933) rotate(-45)" text-anchor="end" font-size="15.600">control</text>
<text transform="translate(512,932) rotate(-45)" text-anchor="end" font-size="15.600">eNpHR3.0</text>
<!-- bar chart 2 -->
<g stroke="#000" fill="none">
<path d="M649.500,807.500V920.500" stroke-width="3"/><path d="M648,919H760" stroke-width="3"/><path d="M649.500,874H760" stroke-width="3"/>
<path d="M642.500,809.200H649.500M642.500,831H649.500M642.500,852.700H649.500M642.500,874H649.500M642.500,896.300H649.500M642.500,919H649.500" stroke-width="2.400"/>
<path d="M682,919V925M729,919V925" stroke-width="2.400"/>
<rect x="667.800" y="848.700" width="28.200" height="25.300" stroke-width="2.600" fill="#fff"/>
<path d="M682,842V854M672.500,842h19M672.500,854h19" stroke-width="1.800"/>
<path d="M729,868.200V882M719.500,868.200h19M719.500,882h19" stroke-width="1.800"/>
<path d="M714,872.500H744" stroke-width="2.200"/>
<path d="M682,810H731" stroke-width="2.600"/>
</g>
<g font-size="15.200" text-anchor="end">
<text x="645.500" y="814.500">600</text><text x="645.500" y="836.300">400</text><text x="645.500" y="858">200</text><text x="645.500" y="879.300">0</text><text x="645.500" y="901.600">-200</text><text x="645.500" y="924.300">-400</text>
</g>
<text transform="translate(583.300,863.500) rotate(-90)" text-anchor="middle" font-size="15" fill="#5b55dd">CPP-Test 2</text>
<text transform="translate(606.500,861) rotate(-90)" text-anchor="middle" font-size="15">&#916;CPP Score (sec)</text>
<g fill="#ee1a1c" stroke="#000" stroke-width="1.500">
<circle cx="670.800" cy="830" r="4.200"/><circle cx="693" cy="832.200" r="4.200"/><circle cx="685" cy="834" r="4.200"/><circle cx="677.500" cy="838" r="4.200"/><circle cx="670" cy="840.200" r="4.200"/><circle cx="677.500" cy="847.400" r="4.200"/><circle cx="685.500" cy="850.900" r="4.200"/><circle cx="678.300" cy="865.600" r="4.200"/><circle cx="685.500" cy="866.900" r="4.200"/><circle cx="681.500" cy="876.800" r="4.200"/>
</g>
<g fill="#f8ee25" stroke="#000" stroke-width="1.500">
<circle cx="728.800" cy="835.900" r="4.200"/><circle cx="725" cy="862" r="4.200"/><circle cx="732.200" cy="862" r="4.200"/><circle cx="734" cy="872.200" r="4.200"/><circle cx="740.200" cy="877.600" r="4.200"/><circle cx="717.500" cy="879.500" r="4.200"/><circle cx="722" cy="883.500" r="4.200"/><circle cx="735" cy="884.300" r="4.200"/><circle cx="729.600" cy="887.500" r="4.200"/><circle cx="728.800" cy="899" r="4.200"/>
</g>
<text transform="translate(688.500,933) rotate(-45)" text-anchor="end" font-size="15.600">control</text>
<text transform="translate(736,932) rotate(-45)" text-anchor="end" font-size="15.600">eNpHR3.0</text>

</g>
</svg>
</body></html>
